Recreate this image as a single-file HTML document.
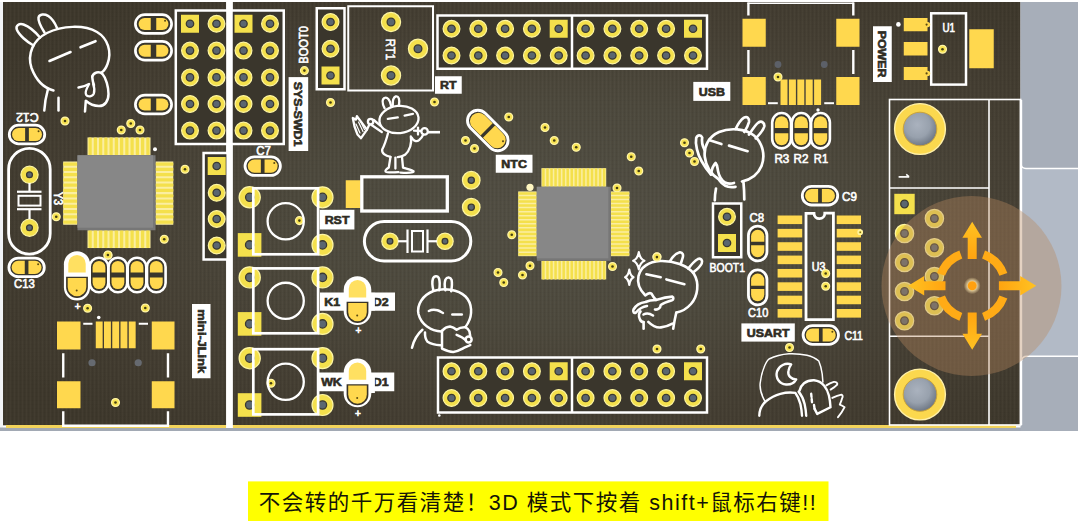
<!DOCTYPE html>
<html lang="zh">
<head>
<meta charset="utf-8">
<title>PCB 3D view</title>
<style>
html,body{margin:0;padding:0;background:#fff;}
body{width:1080px;height:525px;overflow:hidden;position:relative;font-family:"Liberation Sans",sans-serif;}
svg{position:absolute;left:0;top:0;display:block;}
svg text{font-family:"Liberation Sans",sans-serif;}
.cap{position:absolute;left:248px;top:482px;width:580px;height:39px;line-height:43px;font-size:21.5px;letter-spacing:1.5px;color:#141408;font-family:"Liberation Sans","Noto Sans CJK SC",sans-serif;white-space:nowrap;overflow:hidden;text-align:center;}
</style>
</head>
<body>
<svg width="1080" height="525" viewBox="0 0 1080 525">
<defs>
<pattern id="tex" width="4" height="4" patternUnits="userSpaceOnUse">
<rect width="4" height="4" fill="#000" fill-opacity="0"/>
<rect x="0" y="0" width="1" height="4" fill="#000" fill-opacity="0.045"/>
<rect x="2" y="0" width="1" height="4" fill="#fff" fill-opacity="0.02"/>
<rect x="0" y="0" width="4" height="1" fill="#000" fill-opacity="0.02"/>
</pattern>
<radialGradient id="bgl" cx="0.55" cy="0.5" r="0.66">
<stop offset="0" stop-color="#524f44"/><stop offset="0.4" stop-color="#4d493d"/><stop offset="0.72" stop-color="#453f33"/><stop offset="1" stop-color="#3e382c"/>
</radialGradient>
<radialGradient id="hole" cx="0.42" cy="0.38" r="0.62">
<stop offset="0" stop-color="#aab2be"/><stop offset="0.6" stop-color="#98a1ad"/><stop offset="1" stop-color="#707986"/>
</radialGradient>
<radialGradient id="halo" cx="0.5" cy="0.5" r="0.5">
<stop offset="0.45" stop-color="#ffe9b0" stop-opacity="0.95"/><stop offset="1" stop-color="#ffe9b0" stop-opacity="0"/>
</radialGradient>
</defs>
<rect x="0" y="0" width="1080.00" height="525.00" fill="#ffffff" />
<rect x="0" y="2" width="3.20" height="429.00" fill="#f1f3f6" />
<rect x="0" y="427.5" width="1078.00" height="3.50" fill="#a2a9b4" />
<rect x="3" y="2" width="1017.50" height="423.30" fill="url(#bgl)" />
<rect x="3" y="2" width="1017.50" height="423.30" fill="url(#tex)" />
<rect x="6" y="425" width="1010.00" height="3.00" fill="#f2d35a" />
<rect x="1020.5" y="2" width="57.50" height="429.00" fill="#a7aeb9" />
<rect x="1021" y="169" width="57.00" height="187.00" fill="#b2bac6" />
<path d="M1020.9,100 V425" stroke="#ffffff" stroke-width="2.6" fill="none"/>
<path d="M1021,164 Q1021.5,168.5 1026,168.5 H1078" stroke="#ffffff" stroke-width="1.5" fill="none"/>
<path d="M1021.5,361 Q1022,356.3 1027,356.3 H1078" stroke="#ffffff" stroke-width="1.5" fill="none"/>
<rect x="226.4" y="2" width="6.10" height="426.00" fill="#ffffff" />
<rect x="175.8" y="10.5" width="107.95" height="133.50" fill="#3a362c" stroke="#ffffff" stroke-width="2.5"/>
<rect x="181.00" y="14.75" width="18.00" height="18.00" fill="#f4e04c"/>
<circle cx="190" cy="23.75" r="3.70" fill="#5a6670" stroke="#3b3a32" stroke-width="1.3"/>
<circle cx="190" cy="50.6" r="8.4" fill="#f4e04c" stroke="#fdf5a2" stroke-width="1.2"/>
<circle cx="190" cy="50.6" r="3.70" fill="#5a6670" stroke="#3b3a32" stroke-width="1.3"/>
<circle cx="190" cy="77.4" r="8.4" fill="#f4e04c" stroke="#fdf5a2" stroke-width="1.2"/>
<circle cx="190" cy="77.4" r="3.70" fill="#5a6670" stroke="#3b3a32" stroke-width="1.3"/>
<circle cx="190" cy="104" r="8.4" fill="#f4e04c" stroke="#fdf5a2" stroke-width="1.2"/>
<circle cx="190" cy="104" r="3.70" fill="#5a6670" stroke="#3b3a32" stroke-width="1.3"/>
<circle cx="190" cy="130.6" r="8.4" fill="#f4e04c" stroke="#fdf5a2" stroke-width="1.2"/>
<circle cx="190" cy="130.6" r="3.70" fill="#5a6670" stroke="#3b3a32" stroke-width="1.3"/>
<circle cx="216.5" cy="23.75" r="8.4" fill="#f4e04c" stroke="#fdf5a2" stroke-width="1.2"/>
<circle cx="216.5" cy="23.75" r="3.70" fill="#5a6670" stroke="#3b3a32" stroke-width="1.3"/>
<circle cx="216.5" cy="50.6" r="8.4" fill="#f4e04c" stroke="#fdf5a2" stroke-width="1.2"/>
<circle cx="216.5" cy="50.6" r="3.70" fill="#5a6670" stroke="#3b3a32" stroke-width="1.3"/>
<circle cx="216.5" cy="77.4" r="8.4" fill="#f4e04c" stroke="#fdf5a2" stroke-width="1.2"/>
<circle cx="216.5" cy="77.4" r="3.70" fill="#5a6670" stroke="#3b3a32" stroke-width="1.3"/>
<circle cx="216.5" cy="104" r="8.4" fill="#f4e04c" stroke="#fdf5a2" stroke-width="1.2"/>
<circle cx="216.5" cy="104" r="3.70" fill="#5a6670" stroke="#3b3a32" stroke-width="1.3"/>
<circle cx="216.5" cy="130.6" r="8.4" fill="#f4e04c" stroke="#fdf5a2" stroke-width="1.2"/>
<circle cx="216.5" cy="130.6" r="3.70" fill="#5a6670" stroke="#3b3a32" stroke-width="1.3"/>
<rect x="234.50" y="14.75" width="18.00" height="18.00" fill="#f4e04c"/>
<circle cx="243.5" cy="23.75" r="3.70" fill="#5a6670" stroke="#3b3a32" stroke-width="1.3"/>
<circle cx="243.5" cy="50.6" r="8.4" fill="#f4e04c" stroke="#fdf5a2" stroke-width="1.2"/>
<circle cx="243.5" cy="50.6" r="3.70" fill="#5a6670" stroke="#3b3a32" stroke-width="1.3"/>
<circle cx="243.5" cy="77.4" r="8.4" fill="#f4e04c" stroke="#fdf5a2" stroke-width="1.2"/>
<circle cx="243.5" cy="77.4" r="3.70" fill="#5a6670" stroke="#3b3a32" stroke-width="1.3"/>
<circle cx="243.5" cy="104" r="8.4" fill="#f4e04c" stroke="#fdf5a2" stroke-width="1.2"/>
<circle cx="243.5" cy="104" r="3.70" fill="#5a6670" stroke="#3b3a32" stroke-width="1.3"/>
<circle cx="243.5" cy="130.6" r="8.4" fill="#f4e04c" stroke="#fdf5a2" stroke-width="1.2"/>
<circle cx="243.5" cy="130.6" r="3.70" fill="#5a6670" stroke="#3b3a32" stroke-width="1.3"/>
<circle cx="270" cy="23.75" r="8.4" fill="#f4e04c" stroke="#fdf5a2" stroke-width="1.2"/>
<circle cx="270" cy="23.75" r="3.70" fill="#5a6670" stroke="#3b3a32" stroke-width="1.3"/>
<circle cx="270" cy="50.6" r="8.4" fill="#f4e04c" stroke="#fdf5a2" stroke-width="1.2"/>
<circle cx="270" cy="50.6" r="3.70" fill="#5a6670" stroke="#3b3a32" stroke-width="1.3"/>
<circle cx="270" cy="77.4" r="8.4" fill="#f4e04c" stroke="#fdf5a2" stroke-width="1.2"/>
<circle cx="270" cy="77.4" r="3.70" fill="#5a6670" stroke="#3b3a32" stroke-width="1.3"/>
<circle cx="270" cy="104" r="8.4" fill="#f4e04c" stroke="#fdf5a2" stroke-width="1.2"/>
<circle cx="270" cy="104" r="3.70" fill="#5a6670" stroke="#3b3a32" stroke-width="1.3"/>
<circle cx="270" cy="130.6" r="8.4" fill="#f4e04c" stroke="#fdf5a2" stroke-width="1.2"/>
<circle cx="270" cy="130.6" r="3.70" fill="#5a6670" stroke="#3b3a32" stroke-width="1.3"/>
<rect x="226.4" y="2" width="6.10" height="426.00" fill="#ffffff" />
<g transform="translate(153.5,24) rotate(0)">
<rect x="-18.1" y="-9.4" width="36.2" height="18.8" rx="9.4" fill="#39362c" stroke="#ffffff" stroke-width="2.7"/>
<path d="M-2.75,-6.0 L-8.95,-6.0 A6.0,6.0 0 0 0 -8.95,6.0 L-2.75,6.0 Z" fill="#ffd84e"/>
<path d="M2.75,-6.0 L8.95,-6.0 A6.0,6.0 0 0 1 8.95,6.0 L2.75,6.0 Z" fill="#ffd84e"/>
<circle cx="11.549999999999999" cy="-3.2" r="1" fill="#5a4a10"/>
</g>
<g transform="translate(153.5,50.75) rotate(0)">
<rect x="-18.1" y="-9.4" width="36.2" height="18.8" rx="9.4" fill="#39362c" stroke="#ffffff" stroke-width="2.7"/>
<path d="M-2.75,-6.0 L-8.95,-6.0 A6.0,6.0 0 0 0 -8.95,6.0 L-2.75,6.0 Z" fill="#ffd84e"/>
<path d="M2.75,-6.0 L8.95,-6.0 A6.0,6.0 0 0 1 8.95,6.0 L2.75,6.0 Z" fill="#ffd84e"/>
</g>
<g transform="translate(153.5,104.5) rotate(0)">
<rect x="-18.1" y="-9.4" width="36.2" height="18.8" rx="9.4" fill="#39362c" stroke="#ffffff" stroke-width="2.7"/>
<path d="M-2.75,-6.0 L-8.95,-6.0 A6.0,6.0 0 0 0 -8.95,6.0 L-2.75,6.0 Z" fill="#ffd84e"/>
<path d="M2.75,-6.0 L8.95,-6.0 A6.0,6.0 0 0 1 8.95,6.0 L2.75,6.0 Z" fill="#ffd84e"/>
</g>
<text transform="translate(303.8,44.9) rotate(-90) scale(0.82,1)" font-size="13.6" fill="#ffffff" stroke="#ffffff" stroke-width="0.65" font-weight="normal" text-anchor="middle" letter-spacing="0" dominant-baseline="central">BOOT0</text>
<circle cx="304.4" cy="70.6" r="3.9" fill="#f8e352" stroke="#fff4a6" stroke-width="1.3"/>
<circle cx="304.4" cy="70.6" r="1.3" fill="#463f12"/>
<rect x="288.6" y="77.1" width="19.60" height="73.90" fill="#ffffff" />
<text transform="translate(298.4,114.05) rotate(90) scale(1.13,1)" font-size="11" fill="#2e2b22" stroke="#2e2b22" stroke-width="0.6" font-weight="bold" text-anchor="middle" letter-spacing="0" dominant-baseline="central">SYS-SWD1</text>
<rect x="316.75" y="8.25" width="27.75" height="81.00" fill="#3a362c" stroke="#ffffff" stroke-width="2.5"/>
<circle cx="330.5" cy="22" r="8.4" fill="#f4e04c" stroke="#fdf5a2" stroke-width="1.2"/>
<circle cx="330.5" cy="22" r="3.70" fill="#5a6670" stroke="#3b3a32" stroke-width="1.3"/>
<circle cx="330.5" cy="48.75" r="8.4" fill="#f4e04c" stroke="#fdf5a2" stroke-width="1.2"/>
<circle cx="330.5" cy="48.75" r="3.70" fill="#5a6670" stroke="#3b3a32" stroke-width="1.3"/>
<rect x="321.50" y="66.50" width="18.00" height="18.00" fill="#f4e04c"/>
<circle cx="330.5" cy="75.5" r="3.70" fill="#5a6670" stroke="#3b3a32" stroke-width="1.3"/>
<rect x="348.25" y="6.25" width="84.75" height="84.25" fill="none" stroke="#ffffff" stroke-width="2.0"/>
<circle cx="391" cy="22" r="9.6" fill="#f4e04c" stroke="#fdf5a2" stroke-width="1.2"/>
<circle cx="391" cy="22" r="3.87" fill="#5a6670" stroke="#3b3a32" stroke-width="1.3"/>
<circle cx="418" cy="48.75" r="9.6" fill="#f4e04c" stroke="#fdf5a2" stroke-width="1.2"/>
<circle cx="418" cy="48.75" r="3.87" fill="#5a6670" stroke="#3b3a32" stroke-width="1.3"/>
<circle cx="391" cy="75.5" r="9.6" fill="#f4e04c" stroke="#fdf5a2" stroke-width="1.2"/>
<circle cx="391" cy="75.5" r="3.87" fill="#5a6670" stroke="#3b3a32" stroke-width="1.3"/>
<text transform="translate(390,49.4) rotate(90) scale(0.83,1)" font-size="13.6" fill="#ffffff" stroke="#ffffff" stroke-width="0.65" font-weight="normal" text-anchor="middle" letter-spacing="0" dominant-baseline="central">RT1</text>
<rect x="435" y="76.25" width="26.75" height="17.50" fill="#ffffff" />
<text transform="translate(448.375,85.0) scale(1.13,1)" font-size="11" fill="#2e2b22" stroke="#2e2b22" stroke-width="0.6" font-weight="bold" text-anchor="middle" letter-spacing="0" dominant-baseline="central">RT</text>
<rect x="437.5" y="15.5" width="269.50" height="53.25" fill="#3a362c" stroke="#ffffff" stroke-width="2.5"/>
<circle cx="451.5" cy="28.75" r="8.4" fill="#f4e04c" stroke="#fdf5a2" stroke-width="1.2"/>
<circle cx="451.5" cy="28.75" r="3.70" fill="#5a6670" stroke="#3b3a32" stroke-width="1.3"/>
<circle cx="451.5" cy="55.5" r="8.4" fill="#f4e04c" stroke="#fdf5a2" stroke-width="1.2"/>
<circle cx="451.5" cy="55.5" r="3.70" fill="#5a6670" stroke="#3b3a32" stroke-width="1.3"/>
<circle cx="478.3" cy="28.75" r="8.4" fill="#f4e04c" stroke="#fdf5a2" stroke-width="1.2"/>
<circle cx="478.3" cy="28.75" r="3.70" fill="#5a6670" stroke="#3b3a32" stroke-width="1.3"/>
<circle cx="478.3" cy="55.5" r="8.4" fill="#f4e04c" stroke="#fdf5a2" stroke-width="1.2"/>
<circle cx="478.3" cy="55.5" r="3.70" fill="#5a6670" stroke="#3b3a32" stroke-width="1.3"/>
<circle cx="505.1" cy="28.75" r="8.4" fill="#f4e04c" stroke="#fdf5a2" stroke-width="1.2"/>
<circle cx="505.1" cy="28.75" r="3.70" fill="#5a6670" stroke="#3b3a32" stroke-width="1.3"/>
<circle cx="505.1" cy="55.5" r="8.4" fill="#f4e04c" stroke="#fdf5a2" stroke-width="1.2"/>
<circle cx="505.1" cy="55.5" r="3.70" fill="#5a6670" stroke="#3b3a32" stroke-width="1.3"/>
<circle cx="531.9" cy="28.75" r="8.4" fill="#f4e04c" stroke="#fdf5a2" stroke-width="1.2"/>
<circle cx="531.9" cy="28.75" r="3.70" fill="#5a6670" stroke="#3b3a32" stroke-width="1.3"/>
<circle cx="531.9" cy="55.5" r="8.4" fill="#f4e04c" stroke="#fdf5a2" stroke-width="1.2"/>
<circle cx="531.9" cy="55.5" r="3.70" fill="#5a6670" stroke="#3b3a32" stroke-width="1.3"/>
<rect x="549.70" y="19.75" width="18.00" height="18.00" fill="#f4e04c"/>
<circle cx="558.7" cy="28.75" r="3.70" fill="#5a6670" stroke="#3b3a32" stroke-width="1.3"/>
<circle cx="558.7" cy="55.5" r="8.4" fill="#f4e04c" stroke="#fdf5a2" stroke-width="1.2"/>
<circle cx="558.7" cy="55.5" r="3.70" fill="#5a6670" stroke="#3b3a32" stroke-width="1.3"/>
<circle cx="585.6" cy="28.75" r="8.4" fill="#f4e04c" stroke="#fdf5a2" stroke-width="1.2"/>
<circle cx="585.6" cy="28.75" r="3.70" fill="#5a6670" stroke="#3b3a32" stroke-width="1.3"/>
<circle cx="585.6" cy="55.5" r="8.4" fill="#f4e04c" stroke="#fdf5a2" stroke-width="1.2"/>
<circle cx="585.6" cy="55.5" r="3.70" fill="#5a6670" stroke="#3b3a32" stroke-width="1.3"/>
<circle cx="612.4" cy="28.75" r="8.4" fill="#f4e04c" stroke="#fdf5a2" stroke-width="1.2"/>
<circle cx="612.4" cy="28.75" r="3.70" fill="#5a6670" stroke="#3b3a32" stroke-width="1.3"/>
<circle cx="612.4" cy="55.5" r="8.4" fill="#f4e04c" stroke="#fdf5a2" stroke-width="1.2"/>
<circle cx="612.4" cy="55.5" r="3.70" fill="#5a6670" stroke="#3b3a32" stroke-width="1.3"/>
<circle cx="639.2" cy="28.75" r="8.4" fill="#f4e04c" stroke="#fdf5a2" stroke-width="1.2"/>
<circle cx="639.2" cy="28.75" r="3.70" fill="#5a6670" stroke="#3b3a32" stroke-width="1.3"/>
<circle cx="639.2" cy="55.5" r="8.4" fill="#f4e04c" stroke="#fdf5a2" stroke-width="1.2"/>
<circle cx="639.2" cy="55.5" r="3.70" fill="#5a6670" stroke="#3b3a32" stroke-width="1.3"/>
<circle cx="666.1" cy="28.75" r="8.4" fill="#f4e04c" stroke="#fdf5a2" stroke-width="1.2"/>
<circle cx="666.1" cy="28.75" r="3.70" fill="#5a6670" stroke="#3b3a32" stroke-width="1.3"/>
<circle cx="666.1" cy="55.5" r="8.4" fill="#f4e04c" stroke="#fdf5a2" stroke-width="1.2"/>
<circle cx="666.1" cy="55.5" r="3.70" fill="#5a6670" stroke="#3b3a32" stroke-width="1.3"/>
<rect x="684.00" y="19.75" width="18.00" height="18.00" fill="#f4e04c"/>
<circle cx="693" cy="28.75" r="3.70" fill="#5a6670" stroke="#3b3a32" stroke-width="1.3"/>
<circle cx="693" cy="55.5" r="8.4" fill="#f4e04c" stroke="#fdf5a2" stroke-width="1.2"/>
<circle cx="693" cy="55.5" r="3.70" fill="#5a6670" stroke="#3b3a32" stroke-width="1.3"/>
<line x1="572" y1="15.5" x2="572" y2="68.75" stroke="#ffffff" stroke-width="2.5" stroke-linecap="butt"/>
<rect x="438" y="357.5" width="269.00" height="55.00" fill="#3a362c" stroke="#ffffff" stroke-width="2.5"/>
<circle cx="451.5" cy="371.25" r="8.4" fill="#f4e04c" stroke="#fdf5a2" stroke-width="1.2"/>
<circle cx="451.5" cy="371.25" r="3.70" fill="#5a6670" stroke="#3b3a32" stroke-width="1.3"/>
<circle cx="451.5" cy="398" r="8.4" fill="#f4e04c" stroke="#fdf5a2" stroke-width="1.2"/>
<circle cx="451.5" cy="398" r="3.70" fill="#5a6670" stroke="#3b3a32" stroke-width="1.3"/>
<circle cx="478.3" cy="371.25" r="8.4" fill="#f4e04c" stroke="#fdf5a2" stroke-width="1.2"/>
<circle cx="478.3" cy="371.25" r="3.70" fill="#5a6670" stroke="#3b3a32" stroke-width="1.3"/>
<circle cx="478.3" cy="398" r="8.4" fill="#f4e04c" stroke="#fdf5a2" stroke-width="1.2"/>
<circle cx="478.3" cy="398" r="3.70" fill="#5a6670" stroke="#3b3a32" stroke-width="1.3"/>
<circle cx="505.1" cy="371.25" r="8.4" fill="#f4e04c" stroke="#fdf5a2" stroke-width="1.2"/>
<circle cx="505.1" cy="371.25" r="3.70" fill="#5a6670" stroke="#3b3a32" stroke-width="1.3"/>
<circle cx="505.1" cy="398" r="8.4" fill="#f4e04c" stroke="#fdf5a2" stroke-width="1.2"/>
<circle cx="505.1" cy="398" r="3.70" fill="#5a6670" stroke="#3b3a32" stroke-width="1.3"/>
<circle cx="531.9" cy="371.25" r="8.4" fill="#f4e04c" stroke="#fdf5a2" stroke-width="1.2"/>
<circle cx="531.9" cy="371.25" r="3.70" fill="#5a6670" stroke="#3b3a32" stroke-width="1.3"/>
<circle cx="531.9" cy="398" r="8.4" fill="#f4e04c" stroke="#fdf5a2" stroke-width="1.2"/>
<circle cx="531.9" cy="398" r="3.70" fill="#5a6670" stroke="#3b3a32" stroke-width="1.3"/>
<rect x="549.70" y="362.25" width="18.00" height="18.00" fill="#f4e04c"/>
<circle cx="558.7" cy="371.25" r="3.70" fill="#5a6670" stroke="#3b3a32" stroke-width="1.3"/>
<circle cx="558.7" cy="398" r="8.4" fill="#f4e04c" stroke="#fdf5a2" stroke-width="1.2"/>
<circle cx="558.7" cy="398" r="3.70" fill="#5a6670" stroke="#3b3a32" stroke-width="1.3"/>
<circle cx="585.6" cy="371.25" r="8.4" fill="#f4e04c" stroke="#fdf5a2" stroke-width="1.2"/>
<circle cx="585.6" cy="371.25" r="3.70" fill="#5a6670" stroke="#3b3a32" stroke-width="1.3"/>
<circle cx="585.6" cy="398" r="8.4" fill="#f4e04c" stroke="#fdf5a2" stroke-width="1.2"/>
<circle cx="585.6" cy="398" r="3.70" fill="#5a6670" stroke="#3b3a32" stroke-width="1.3"/>
<circle cx="612.4" cy="371.25" r="8.4" fill="#f4e04c" stroke="#fdf5a2" stroke-width="1.2"/>
<circle cx="612.4" cy="371.25" r="3.70" fill="#5a6670" stroke="#3b3a32" stroke-width="1.3"/>
<circle cx="612.4" cy="398" r="8.4" fill="#f4e04c" stroke="#fdf5a2" stroke-width="1.2"/>
<circle cx="612.4" cy="398" r="3.70" fill="#5a6670" stroke="#3b3a32" stroke-width="1.3"/>
<circle cx="639.2" cy="371.25" r="8.4" fill="#f4e04c" stroke="#fdf5a2" stroke-width="1.2"/>
<circle cx="639.2" cy="371.25" r="3.70" fill="#5a6670" stroke="#3b3a32" stroke-width="1.3"/>
<circle cx="639.2" cy="398" r="8.4" fill="#f4e04c" stroke="#fdf5a2" stroke-width="1.2"/>
<circle cx="639.2" cy="398" r="3.70" fill="#5a6670" stroke="#3b3a32" stroke-width="1.3"/>
<circle cx="666.1" cy="371.25" r="8.4" fill="#f4e04c" stroke="#fdf5a2" stroke-width="1.2"/>
<circle cx="666.1" cy="371.25" r="3.70" fill="#5a6670" stroke="#3b3a32" stroke-width="1.3"/>
<circle cx="666.1" cy="398" r="8.4" fill="#f4e04c" stroke="#fdf5a2" stroke-width="1.2"/>
<circle cx="666.1" cy="398" r="3.70" fill="#5a6670" stroke="#3b3a32" stroke-width="1.3"/>
<rect x="684.00" y="362.25" width="18.00" height="18.00" fill="#f4e04c"/>
<circle cx="693" cy="371.25" r="3.70" fill="#5a6670" stroke="#3b3a32" stroke-width="1.3"/>
<circle cx="693" cy="398" r="8.4" fill="#f4e04c" stroke="#fdf5a2" stroke-width="1.2"/>
<circle cx="693" cy="398" r="3.70" fill="#5a6670" stroke="#3b3a32" stroke-width="1.3"/>
<line x1="572" y1="357.5" x2="572" y2="412.5" stroke="#ffffff" stroke-width="2.5" stroke-linecap="butt"/>
<circle cx="439.3" cy="415.5" r="1.3" fill="#ffffff"/>
<circle cx="65" cy="121" r="3.9" fill="#f8e352" stroke="#fff4a6" stroke-width="1.3"/>
<circle cx="65" cy="121" r="1.3" fill="#463f12"/>
<circle cx="130.75" cy="123.5" r="3.9" fill="#f8e352" stroke="#fff4a6" stroke-width="1.3"/>
<circle cx="130.75" cy="123.5" r="1.3" fill="#463f12"/>
<circle cx="121.25" cy="130" r="3.9" fill="#f8e352" stroke="#fff4a6" stroke-width="1.3"/>
<circle cx="121.25" cy="130" r="1.3" fill="#463f12"/>
<circle cx="140" cy="130" r="3.9" fill="#f8e352" stroke="#fff4a6" stroke-width="1.3"/>
<circle cx="140" cy="130" r="1.3" fill="#463f12"/>
<circle cx="330.5" cy="102.5" r="3.9" fill="#f8e352" stroke="#fff4a6" stroke-width="1.3"/>
<circle cx="330.5" cy="102.5" r="1.3" fill="#463f12"/>
<circle cx="434.5" cy="102" r="3.9" fill="#f8e352" stroke="#fff4a6" stroke-width="1.3"/>
<circle cx="434.5" cy="102" r="1.3" fill="#463f12"/>
<circle cx="508.75" cy="117" r="3.9" fill="#f8e352" stroke="#fff4a6" stroke-width="1.3"/>
<circle cx="508.75" cy="117" r="1.3" fill="#463f12"/>
<circle cx="185" cy="169.25" r="3.9" fill="#f8e352" stroke="#fff4a6" stroke-width="1.3"/>
<circle cx="185" cy="169.25" r="1.3" fill="#463f12"/>
<circle cx="164.25" cy="239.25" r="3.9" fill="#f8e352" stroke="#fff4a6" stroke-width="1.3"/>
<circle cx="164.25" cy="239.25" r="1.3" fill="#463f12"/>
<circle cx="56.25" cy="216.75" r="3.9" fill="#f8e352" stroke="#fff4a6" stroke-width="1.3"/>
<circle cx="56.25" cy="216.75" r="1.3" fill="#463f12"/>
<circle cx="108" cy="255.25" r="3.9" fill="#f8e352" stroke="#fff4a6" stroke-width="1.3"/>
<circle cx="108" cy="255.25" r="1.3" fill="#463f12"/>
<circle cx="87.6" cy="308.2" r="3.9" fill="#f8e352" stroke="#fff4a6" stroke-width="1.3"/>
<circle cx="87.6" cy="308.2" r="1.3" fill="#463f12"/>
<circle cx="145.3" cy="308" r="3.9" fill="#f8e352" stroke="#fff4a6" stroke-width="1.3"/>
<circle cx="145.3" cy="308" r="1.3" fill="#463f12"/>
<circle cx="465.5" cy="140.5" r="3.9" fill="#f8e352" stroke="#fff4a6" stroke-width="1.3"/>
<circle cx="465.5" cy="140.5" r="1.3" fill="#463f12"/>
<circle cx="474.5" cy="148.5" r="3.9" fill="#f8e352" stroke="#fff4a6" stroke-width="1.3"/>
<circle cx="474.5" cy="148.5" r="1.3" fill="#463f12"/>
<circle cx="511.75" cy="234.75" r="3.9" fill="#f8e352" stroke="#fff4a6" stroke-width="1.3"/>
<circle cx="511.75" cy="234.75" r="1.3" fill="#463f12"/>
<circle cx="554.25" cy="140.5" r="3.9" fill="#f8e352" stroke="#fff4a6" stroke-width="1.3"/>
<circle cx="554.25" cy="140.5" r="1.3" fill="#463f12"/>
<circle cx="545" cy="127.5" r="3.9" fill="#f8e352" stroke="#fff4a6" stroke-width="1.3"/>
<circle cx="545" cy="127.5" r="1.3" fill="#463f12"/>
<circle cx="576.25" cy="147.25" r="3.9" fill="#f8e352" stroke="#fff4a6" stroke-width="1.3"/>
<circle cx="576.25" cy="147.25" r="1.3" fill="#463f12"/>
<circle cx="631.25" cy="156.75" r="3.9" fill="#f8e352" stroke="#fff4a6" stroke-width="1.3"/>
<circle cx="631.25" cy="156.75" r="1.3" fill="#463f12"/>
<circle cx="638.75" cy="171" r="3.9" fill="#f8e352" stroke="#fff4a6" stroke-width="1.3"/>
<circle cx="638.75" cy="171" r="1.3" fill="#463f12"/>
<circle cx="617" cy="188" r="3.9" fill="#f8e352" stroke="#fff4a6" stroke-width="1.3"/>
<circle cx="617" cy="188" r="1.3" fill="#463f12"/>
<circle cx="684.5" cy="142.75" r="3.9" fill="#f8e352" stroke="#fff4a6" stroke-width="1.3"/>
<circle cx="684.5" cy="142.75" r="1.3" fill="#463f12"/>
<circle cx="689.5" cy="153" r="3.9" fill="#f8e352" stroke="#fff4a6" stroke-width="1.3"/>
<circle cx="689.5" cy="153" r="1.3" fill="#463f12"/>
<circle cx="694.5" cy="161.5" r="3.9" fill="#f8e352" stroke="#fff4a6" stroke-width="1.3"/>
<circle cx="694.5" cy="161.5" r="1.3" fill="#463f12"/>
<circle cx="657" cy="256.75" r="3.9" fill="#f8e352" stroke="#fff4a6" stroke-width="1.3"/>
<circle cx="657" cy="256.75" r="1.3" fill="#463f12"/>
<circle cx="498" cy="272.5" r="3.9" fill="#f8e352" stroke="#fff4a6" stroke-width="1.3"/>
<circle cx="498" cy="272.5" r="1.3" fill="#463f12"/>
<circle cx="503.75" cy="282.5" r="3.9" fill="#f8e352" stroke="#fff4a6" stroke-width="1.3"/>
<circle cx="503.75" cy="282.5" r="1.3" fill="#463f12"/>
<circle cx="522.5" cy="275" r="3.9" fill="#f8e352" stroke="#fff4a6" stroke-width="1.3"/>
<circle cx="522.5" cy="275" r="1.3" fill="#463f12"/>
<circle cx="530" cy="265.75" r="3.9" fill="#f8e352" stroke="#fff4a6" stroke-width="1.3"/>
<circle cx="530" cy="265.75" r="1.3" fill="#463f12"/>
<circle cx="612.5" cy="266.5" r="3.9" fill="#f8e352" stroke="#fff4a6" stroke-width="1.3"/>
<circle cx="612.5" cy="266.5" r="1.3" fill="#463f12"/>
<circle cx="657" cy="349" r="3.9" fill="#f8e352" stroke="#fff4a6" stroke-width="1.3"/>
<circle cx="657" cy="349" r="1.3" fill="#463f12"/>
<circle cx="700.75" cy="349" r="3.9" fill="#f8e352" stroke="#fff4a6" stroke-width="1.3"/>
<circle cx="700.75" cy="349" r="1.3" fill="#463f12"/>
<circle cx="789.5" cy="347.5" r="3.9" fill="#f8e352" stroke="#fff4a6" stroke-width="1.3"/>
<circle cx="789.5" cy="347.5" r="1.3" fill="#463f12"/>
<circle cx="115.5" cy="402.5" r="3.9" fill="#f8e352" stroke="#fff4a6" stroke-width="1.3"/>
<circle cx="115.5" cy="402.5" r="1.3" fill="#463f12"/>
<circle cx="299.4" cy="220.6" r="3.9" fill="#f8e352" stroke="#fff4a6" stroke-width="1.3"/>
<circle cx="299.4" cy="220.6" r="1.3" fill="#463f12"/>
<circle cx="271" cy="383.25" r="3.9" fill="#f8e352" stroke="#fff4a6" stroke-width="1.3"/>
<circle cx="271" cy="383.25" r="1.3" fill="#463f12"/>
<circle cx="942.5" cy="49.25" r="3.9" fill="#f8e352" stroke="#fff4a6" stroke-width="1.3"/>
<circle cx="942.5" cy="49.25" r="1.3" fill="#463f12"/>
<circle cx="778" cy="77" r="3.9" fill="#f8e352" stroke="#fff4a6" stroke-width="1.3"/>
<circle cx="778" cy="77" r="1.3" fill="#463f12"/>
<circle cx="530" cy="187.3" r="3.6" fill="#fff6c0"/>
<rect x="87.5" y="137.45" width="63.00" height="17.80" fill="#fbeea0" />
<rect x="87.5" y="230.25" width="63.00" height="17.80" fill="#fbeea0" />
<rect x="88.50" y="137.45" width="3.25" height="17.8" rx="1" fill="#f4e04c"/>
<rect x="88.50" y="230.25" width="3.25" height="17.8" rx="1" fill="#f4e04c"/>
<rect x="93.75" y="137.45" width="3.25" height="17.8" rx="1" fill="#f4e04c"/>
<rect x="93.75" y="230.25" width="3.25" height="17.8" rx="1" fill="#f4e04c"/>
<rect x="99.00" y="137.45" width="3.25" height="17.8" rx="1" fill="#f4e04c"/>
<rect x="99.00" y="230.25" width="3.25" height="17.8" rx="1" fill="#f4e04c"/>
<rect x="104.25" y="137.45" width="3.25" height="17.8" rx="1" fill="#f4e04c"/>
<rect x="104.25" y="230.25" width="3.25" height="17.8" rx="1" fill="#f4e04c"/>
<rect x="109.50" y="137.45" width="3.25" height="17.8" rx="1" fill="#f4e04c"/>
<rect x="109.50" y="230.25" width="3.25" height="17.8" rx="1" fill="#f4e04c"/>
<rect x="114.75" y="137.45" width="3.25" height="17.8" rx="1" fill="#f4e04c"/>
<rect x="114.75" y="230.25" width="3.25" height="17.8" rx="1" fill="#f4e04c"/>
<rect x="120.00" y="137.45" width="3.25" height="17.8" rx="1" fill="#f4e04c"/>
<rect x="120.00" y="230.25" width="3.25" height="17.8" rx="1" fill="#f4e04c"/>
<rect x="125.25" y="137.45" width="3.25" height="17.8" rx="1" fill="#f4e04c"/>
<rect x="125.25" y="230.25" width="3.25" height="17.8" rx="1" fill="#f4e04c"/>
<rect x="130.50" y="137.45" width="3.25" height="17.8" rx="1" fill="#f4e04c"/>
<rect x="130.50" y="230.25" width="3.25" height="17.8" rx="1" fill="#f4e04c"/>
<rect x="135.75" y="137.45" width="3.25" height="17.8" rx="1" fill="#f4e04c"/>
<rect x="135.75" y="230.25" width="3.25" height="17.8" rx="1" fill="#f4e04c"/>
<rect x="141.00" y="137.45" width="3.25" height="17.8" rx="1" fill="#f4e04c"/>
<rect x="141.00" y="230.25" width="3.25" height="17.8" rx="1" fill="#f4e04c"/>
<rect x="146.25" y="137.45" width="3.25" height="17.8" rx="1" fill="#f4e04c"/>
<rect x="146.25" y="230.25" width="3.25" height="17.8" rx="1" fill="#f4e04c"/>
<rect x="63.2" y="161.5" width="14.30" height="63.25" fill="#fbeea0" />
<rect x="155.5" y="161.5" width="17.80" height="63.25" fill="#fbeea0" />
<rect x="63.2" y="162.51" width="14.3" height="3.25" rx="1" fill="#f4e04c"/>
<rect x="155.5" y="162.51" width="17.8" height="3.25" rx="1" fill="#f4e04c"/>
<rect x="63.2" y="167.78" width="14.3" height="3.25" rx="1" fill="#f4e04c"/>
<rect x="155.5" y="167.78" width="17.8" height="3.25" rx="1" fill="#f4e04c"/>
<rect x="63.2" y="173.05" width="14.3" height="3.25" rx="1" fill="#f4e04c"/>
<rect x="155.5" y="173.05" width="17.8" height="3.25" rx="1" fill="#f4e04c"/>
<rect x="63.2" y="178.32" width="14.3" height="3.25" rx="1" fill="#f4e04c"/>
<rect x="155.5" y="178.32" width="17.8" height="3.25" rx="1" fill="#f4e04c"/>
<rect x="63.2" y="183.59" width="14.3" height="3.25" rx="1" fill="#f4e04c"/>
<rect x="155.5" y="183.59" width="17.8" height="3.25" rx="1" fill="#f4e04c"/>
<rect x="63.2" y="188.86" width="14.3" height="3.25" rx="1" fill="#f4e04c"/>
<rect x="155.5" y="188.86" width="17.8" height="3.25" rx="1" fill="#f4e04c"/>
<rect x="63.2" y="194.13" width="14.3" height="3.25" rx="1" fill="#f4e04c"/>
<rect x="155.5" y="194.13" width="17.8" height="3.25" rx="1" fill="#f4e04c"/>
<rect x="63.2" y="199.40" width="14.3" height="3.25" rx="1" fill="#f4e04c"/>
<rect x="155.5" y="199.40" width="17.8" height="3.25" rx="1" fill="#f4e04c"/>
<rect x="63.2" y="204.67" width="14.3" height="3.25" rx="1" fill="#f4e04c"/>
<rect x="155.5" y="204.67" width="17.8" height="3.25" rx="1" fill="#f4e04c"/>
<rect x="63.2" y="209.95" width="14.3" height="3.25" rx="1" fill="#f4e04c"/>
<rect x="155.5" y="209.95" width="17.8" height="3.25" rx="1" fill="#f4e04c"/>
<rect x="63.2" y="215.22" width="14.3" height="3.25" rx="1" fill="#f4e04c"/>
<rect x="155.5" y="215.22" width="17.8" height="3.25" rx="1" fill="#f4e04c"/>
<rect x="63.2" y="220.49" width="14.3" height="3.25" rx="1" fill="#f4e04c"/>
<rect x="155.5" y="220.49" width="17.8" height="3.25" rx="1" fill="#f4e04c"/>
<rect x="77.5" y="155.25" width="78.00" height="75.00" fill="#777777" />
<rect x="77.5" y="155.25" width="75.50" height="72.50" fill="#878787" />
<circle cx="155" cy="149.3" r="2" fill="#ffffff"/>
<rect x="541.4" y="168.20000000000002" width="64.80" height="18.60" fill="#fbeea0" />
<rect x="541.4" y="260.8" width="64.80" height="18.60" fill="#fbeea0" />
<rect x="542.17" y="168.20000000000002" width="2.51" height="18.6" rx="1" fill="#f4e04c"/>
<rect x="542.17" y="260.8" width="2.51" height="18.6" rx="1" fill="#f4e04c"/>
<rect x="546.22" y="168.20000000000002" width="2.51" height="18.6" rx="1" fill="#f4e04c"/>
<rect x="546.22" y="260.8" width="2.51" height="18.6" rx="1" fill="#f4e04c"/>
<rect x="550.27" y="168.20000000000002" width="2.51" height="18.6" rx="1" fill="#f4e04c"/>
<rect x="550.27" y="260.8" width="2.51" height="18.6" rx="1" fill="#f4e04c"/>
<rect x="554.32" y="168.20000000000002" width="2.51" height="18.6" rx="1" fill="#f4e04c"/>
<rect x="554.32" y="260.8" width="2.51" height="18.6" rx="1" fill="#f4e04c"/>
<rect x="558.37" y="168.20000000000002" width="2.51" height="18.6" rx="1" fill="#f4e04c"/>
<rect x="558.37" y="260.8" width="2.51" height="18.6" rx="1" fill="#f4e04c"/>
<rect x="562.42" y="168.20000000000002" width="2.51" height="18.6" rx="1" fill="#f4e04c"/>
<rect x="562.42" y="260.8" width="2.51" height="18.6" rx="1" fill="#f4e04c"/>
<rect x="566.47" y="168.20000000000002" width="2.51" height="18.6" rx="1" fill="#f4e04c"/>
<rect x="566.47" y="260.8" width="2.51" height="18.6" rx="1" fill="#f4e04c"/>
<rect x="570.52" y="168.20000000000002" width="2.51" height="18.6" rx="1" fill="#f4e04c"/>
<rect x="570.52" y="260.8" width="2.51" height="18.6" rx="1" fill="#f4e04c"/>
<rect x="574.57" y="168.20000000000002" width="2.51" height="18.6" rx="1" fill="#f4e04c"/>
<rect x="574.57" y="260.8" width="2.51" height="18.6" rx="1" fill="#f4e04c"/>
<rect x="578.62" y="168.20000000000002" width="2.51" height="18.6" rx="1" fill="#f4e04c"/>
<rect x="578.62" y="260.8" width="2.51" height="18.6" rx="1" fill="#f4e04c"/>
<rect x="582.67" y="168.20000000000002" width="2.51" height="18.6" rx="1" fill="#f4e04c"/>
<rect x="582.67" y="260.8" width="2.51" height="18.6" rx="1" fill="#f4e04c"/>
<rect x="586.72" y="168.20000000000002" width="2.51" height="18.6" rx="1" fill="#f4e04c"/>
<rect x="586.72" y="260.8" width="2.51" height="18.6" rx="1" fill="#f4e04c"/>
<rect x="590.77" y="168.20000000000002" width="2.51" height="18.6" rx="1" fill="#f4e04c"/>
<rect x="590.77" y="260.8" width="2.51" height="18.6" rx="1" fill="#f4e04c"/>
<rect x="594.82" y="168.20000000000002" width="2.51" height="18.6" rx="1" fill="#f4e04c"/>
<rect x="594.82" y="260.8" width="2.51" height="18.6" rx="1" fill="#f4e04c"/>
<rect x="598.87" y="168.20000000000002" width="2.51" height="18.6" rx="1" fill="#f4e04c"/>
<rect x="598.87" y="260.8" width="2.51" height="18.6" rx="1" fill="#f4e04c"/>
<rect x="602.92" y="168.20000000000002" width="2.51" height="18.6" rx="1" fill="#f4e04c"/>
<rect x="602.92" y="260.8" width="2.51" height="18.6" rx="1" fill="#f4e04c"/>
<rect x="518.1999999999999" y="191.4" width="18.60" height="64.80" fill="#fbeea0" />
<rect x="610.8" y="191.4" width="18.60" height="64.80" fill="#fbeea0" />
<rect x="518.1999999999999" y="192.17" width="18.6" height="2.51" rx="1" fill="#f4e04c"/>
<rect x="610.8" y="192.17" width="18.6" height="2.51" rx="1" fill="#f4e04c"/>
<rect x="518.1999999999999" y="196.22" width="18.6" height="2.51" rx="1" fill="#f4e04c"/>
<rect x="610.8" y="196.22" width="18.6" height="2.51" rx="1" fill="#f4e04c"/>
<rect x="518.1999999999999" y="200.27" width="18.6" height="2.51" rx="1" fill="#f4e04c"/>
<rect x="610.8" y="200.27" width="18.6" height="2.51" rx="1" fill="#f4e04c"/>
<rect x="518.1999999999999" y="204.32" width="18.6" height="2.51" rx="1" fill="#f4e04c"/>
<rect x="610.8" y="204.32" width="18.6" height="2.51" rx="1" fill="#f4e04c"/>
<rect x="518.1999999999999" y="208.37" width="18.6" height="2.51" rx="1" fill="#f4e04c"/>
<rect x="610.8" y="208.37" width="18.6" height="2.51" rx="1" fill="#f4e04c"/>
<rect x="518.1999999999999" y="212.42" width="18.6" height="2.51" rx="1" fill="#f4e04c"/>
<rect x="610.8" y="212.42" width="18.6" height="2.51" rx="1" fill="#f4e04c"/>
<rect x="518.1999999999999" y="216.47" width="18.6" height="2.51" rx="1" fill="#f4e04c"/>
<rect x="610.8" y="216.47" width="18.6" height="2.51" rx="1" fill="#f4e04c"/>
<rect x="518.1999999999999" y="220.52" width="18.6" height="2.51" rx="1" fill="#f4e04c"/>
<rect x="610.8" y="220.52" width="18.6" height="2.51" rx="1" fill="#f4e04c"/>
<rect x="518.1999999999999" y="224.57" width="18.6" height="2.51" rx="1" fill="#f4e04c"/>
<rect x="610.8" y="224.57" width="18.6" height="2.51" rx="1" fill="#f4e04c"/>
<rect x="518.1999999999999" y="228.62" width="18.6" height="2.51" rx="1" fill="#f4e04c"/>
<rect x="610.8" y="228.62" width="18.6" height="2.51" rx="1" fill="#f4e04c"/>
<rect x="518.1999999999999" y="232.67" width="18.6" height="2.51" rx="1" fill="#f4e04c"/>
<rect x="610.8" y="232.67" width="18.6" height="2.51" rx="1" fill="#f4e04c"/>
<rect x="518.1999999999999" y="236.72" width="18.6" height="2.51" rx="1" fill="#f4e04c"/>
<rect x="610.8" y="236.72" width="18.6" height="2.51" rx="1" fill="#f4e04c"/>
<rect x="518.1999999999999" y="240.77" width="18.6" height="2.51" rx="1" fill="#f4e04c"/>
<rect x="610.8" y="240.77" width="18.6" height="2.51" rx="1" fill="#f4e04c"/>
<rect x="518.1999999999999" y="244.82" width="18.6" height="2.51" rx="1" fill="#f4e04c"/>
<rect x="610.8" y="244.82" width="18.6" height="2.51" rx="1" fill="#f4e04c"/>
<rect x="518.1999999999999" y="248.87" width="18.6" height="2.51" rx="1" fill="#f4e04c"/>
<rect x="610.8" y="248.87" width="18.6" height="2.51" rx="1" fill="#f4e04c"/>
<rect x="518.1999999999999" y="252.92" width="18.6" height="2.51" rx="1" fill="#f4e04c"/>
<rect x="610.8" y="252.92" width="18.6" height="2.51" rx="1" fill="#f4e04c"/>
<rect x="536.8" y="186.8" width="74.00" height="74.00" fill="#777777" />
<rect x="536.8" y="186.8" width="71.50" height="71.50" fill="#878787" />
<rect x="8.6" y="148.4" width="41.6" height="105.8" rx="20.8" fill="none" stroke="#ffffff" stroke-width="2.8"/>
<circle cx="29.5" cy="174.75" r="8.6" fill="#f4e04c" stroke="#fdf5a2" stroke-width="1.2"/>
<circle cx="29.5" cy="174.75" r="2.92" fill="#5a6670" stroke="#3b3a32" stroke-width="1.3"/>
<circle cx="29.5" cy="227.75" r="8.6" fill="#f4e04c" stroke="#fdf5a2" stroke-width="1.2"/>
<circle cx="29.5" cy="227.75" r="2.92" fill="#5a6670" stroke="#3b3a32" stroke-width="1.3"/>
<line x1="29.5" y1="183" x2="29.5" y2="191.5" stroke="#ffffff" stroke-width="2.2" stroke-linecap="butt"/>
<line x1="29.5" y1="209.5" x2="29.5" y2="219" stroke="#ffffff" stroke-width="2.2" stroke-linecap="butt"/>
<line x1="17" y1="191.75" x2="41.5" y2="191.75" stroke="#ffffff" stroke-width="2.2" stroke-linecap="butt"/>
<line x1="17" y1="209.2" x2="41.5" y2="209.2" stroke="#ffffff" stroke-width="2.2" stroke-linecap="butt"/>
<rect x="18.5" y="195.8" width="22.00" height="9.80" fill="none" stroke="#ffffff" stroke-width="2"/>
<text transform="translate(58.6,198.5) rotate(90) scale(0.88,1)" font-size="12.5" fill="#ffffff" stroke="#ffffff" stroke-width="0.65" font-weight="normal" text-anchor="middle" letter-spacing="0" dominant-baseline="central">Y3</text>
<text transform="translate(27.4,118) rotate(180) scale(0.92,1)" font-size="13.5" fill="#ffffff" stroke="#ffffff" stroke-width="0.65" font-weight="normal" text-anchor="middle" letter-spacing="0" dominant-baseline="central">C12</text>
<g transform="translate(27,134.5) rotate(0)">
<rect x="-17.7" y="-9.3" width="35.4" height="18.6" rx="9.3" fill="#39362c" stroke="#ffffff" stroke-width="2.8"/>
<path d="M-1.85,-6.6 L-8.35,-6.6 A6.6,6.6 0 0 0 -8.35,6.6 L-1.85,6.6 Z" fill="#ffd84e"/>
<path d="M1.85,-6.6 L8.35,-6.6 A6.6,6.6 0 0 1 8.35,6.6 L1.85,6.6 Z" fill="#ffd84e"/>
<circle cx="11.549999999999999" cy="-3.2" r="1" fill="#5a4a10"/>
</g>
<g transform="translate(26.6,267.4) rotate(0)">
<rect x="-17.7" y="-9.3" width="35.4" height="18.6" rx="9.3" fill="#39362c" stroke="#ffffff" stroke-width="2.8"/>
<path d="M-1.85,-6.6 L-8.35,-6.6 A6.6,6.6 0 0 0 -8.35,6.6 L-1.85,6.6 Z" fill="#ffd84e"/>
<path d="M1.85,-6.6 L8.35,-6.6 A6.6,6.6 0 0 1 8.35,6.6 L1.85,6.6 Z" fill="#ffd84e"/>
<circle cx="11.549999999999999" cy="-3.2" r="1" fill="#5a4a10"/>
</g>
<text transform="translate(24.4,284.2) scale(0.86,1)" font-size="13.2" fill="#ffffff" stroke="#ffffff" stroke-width="0.65" font-weight="normal" text-anchor="middle" letter-spacing="0" dominant-baseline="central">C13</text>
<circle cx="107.9" cy="255" r="3.9" fill="#f8e352" stroke="#fff4a6" stroke-width="1.3"/>
<circle cx="107.9" cy="255" r="1.3" fill="#463f12"/>
<g transform="translate(99,275) rotate(90)">
<rect x="-17.3" y="-9.3" width="34.6" height="18.6" rx="9.3" fill="#39362c" stroke="#ffffff" stroke-width="2.6"/>
<path d="M-2.4,-6.4 L-7.6,-6.4 A6.4,6.4 0 0 0 -7.6,6.4 L-2.4,6.4 Z" fill="#ffd84e"/>
<path d="M2.4,-6.4 L7.6,-6.4 A6.4,6.4 0 0 1 7.6,6.4 L2.4,6.4 Z" fill="#ffd84e"/>
</g>
<g transform="translate(117.9,275) rotate(90)">
<rect x="-17.3" y="-9.3" width="34.6" height="18.6" rx="9.3" fill="#39362c" stroke="#ffffff" stroke-width="2.6"/>
<path d="M-2.4,-6.4 L-7.6,-6.4 A6.4,6.4 0 0 0 -7.6,6.4 L-2.4,6.4 Z" fill="#ffd84e"/>
<path d="M2.4,-6.4 L7.6,-6.4 A6.4,6.4 0 0 1 7.6,6.4 L2.4,6.4 Z" fill="#ffd84e"/>
</g>
<g transform="translate(137,275) rotate(90)">
<rect x="-17.3" y="-9.3" width="34.6" height="18.6" rx="9.3" fill="#39362c" stroke="#ffffff" stroke-width="2.6"/>
<path d="M-2.4,-6.4 L-7.6,-6.4 A6.4,6.4 0 0 0 -7.6,6.4 L-2.4,6.4 Z" fill="#ffd84e"/>
<path d="M2.4,-6.4 L7.6,-6.4 A6.4,6.4 0 0 1 7.6,6.4 L2.4,6.4 Z" fill="#ffd84e"/>
</g>
<g transform="translate(156.3,275) rotate(90)">
<rect x="-17.3" y="-9.3" width="34.6" height="18.6" rx="9.3" fill="#39362c" stroke="#ffffff" stroke-width="2.6"/>
<path d="M-2.4,-6.4 L-7.6,-6.4 A6.4,6.4 0 0 0 -7.6,6.4 L-2.4,6.4 Z" fill="#ffd84e"/>
<path d="M2.4,-6.4 L7.6,-6.4 A6.4,6.4 0 0 1 7.6,6.4 L2.4,6.4 Z" fill="#ffd84e"/>
</g>
<text transform="translate(77.6,306)" font-size="10" fill="#ffffff" stroke="#ffffff" stroke-width="0.65" font-weight="normal" text-anchor="middle" letter-spacing="0" dominant-baseline="central">+</text>
<rect x="57" y="321.5" width="23.50" height="28.00" fill="#ffd84e" />
<rect x="151.75" y="321.5" width="22.75" height="28.00" fill="#ffd84e" />
<rect x="57" y="381.25" width="23.50" height="27.00" fill="#ffd84e" />
<rect x="151.75" y="381.25" width="22.75" height="27.00" fill="#ffd84e" />
<rect x="95.75" y="321.5" width="6.90" height="26.75" fill="#ffd84e" />
<rect x="104.0" y="321.5" width="6.90" height="26.75" fill="#ffd84e" />
<rect x="112.25" y="321.5" width="6.90" height="26.75" fill="#ffd84e" />
<rect x="120.5" y="321.5" width="6.90" height="26.75" fill="#ffd84e" />
<rect x="128.75" y="321.5" width="6.90" height="26.75" fill="#ffd84e" />
<line x1="83.25" y1="323.75" x2="92.5" y2="323.75" stroke="#ffffff" stroke-width="2" stroke-linecap="butt"/>
<line x1="138.75" y1="323.75" x2="148" y2="323.75" stroke="#ffffff" stroke-width="2" stroke-linecap="butt"/>
<line x1="63.25" y1="353.25" x2="63.25" y2="377.5" stroke="#ffffff" stroke-width="2.4" stroke-linecap="butt"/>
<line x1="168" y1="353.25" x2="168" y2="377.5" stroke="#ffffff" stroke-width="2.4" stroke-linecap="butt"/>
<line x1="63.25" y1="411.25" x2="63.25" y2="427" stroke="#ffffff" stroke-width="2.4" stroke-linecap="butt"/>
<line x1="168" y1="411.25" x2="168" y2="427" stroke="#ffffff" stroke-width="2.4" stroke-linecap="butt"/>
<line x1="62.3" y1="425.8" x2="169" y2="425.8" stroke="#ffffff" stroke-width="2.6" stroke-linecap="butt"/>
<circle cx="98.75" cy="317.5" r="1.8" fill="#ffffff"/>
<circle cx="92" cy="362.75" r="3.6" fill="#666a70"/>
<circle cx="138.25" cy="362.75" r="3.6" fill="#666a70"/>
<rect x="192" y="304" width="18.50" height="74.25" fill="#ffffff" />
<text transform="translate(201.25,341.125) rotate(90) scale(1.16,1)" font-size="11" fill="#2e2b22" stroke="#2e2b22" stroke-width="0.6" font-weight="bold" text-anchor="middle" letter-spacing="0" dominant-baseline="central">mini-JLink</text>
<rect x="203.6" y="153" width="25.40" height="106.50" fill="#3a362c" stroke="#ffffff" stroke-width="2.5"/>
<rect x="207.70" y="157.00" width="18.00" height="18.00" fill="#f4e04c"/>
<circle cx="216.7" cy="166" r="3.70" fill="#5a6670" stroke="#3b3a32" stroke-width="1.3"/>
<circle cx="216.7" cy="192.75" r="8.4" fill="#f4e04c" stroke="#fdf5a2" stroke-width="1.2"/>
<circle cx="216.7" cy="192.75" r="3.70" fill="#5a6670" stroke="#3b3a32" stroke-width="1.3"/>
<circle cx="216.7" cy="219" r="8.4" fill="#f4e04c" stroke="#fdf5a2" stroke-width="1.2"/>
<circle cx="216.7" cy="219" r="3.70" fill="#5a6670" stroke="#3b3a32" stroke-width="1.3"/>
<circle cx="216.7" cy="245.5" r="8.4" fill="#f4e04c" stroke="#fdf5a2" stroke-width="1.2"/>
<circle cx="216.7" cy="245.5" r="3.70" fill="#5a6670" stroke="#3b3a32" stroke-width="1.3"/>
<rect x="226.4" y="2" width="6.10" height="426.00" fill="#ffffff" />
<text transform="translate(263.6,150.4) scale(0.88,1)" font-size="13" fill="#ffffff" stroke="#ffffff" stroke-width="0.65" font-weight="normal" text-anchor="middle" letter-spacing="0" dominant-baseline="central">C7</text>
<g transform="translate(262.7,166.1) rotate(0)">
<rect x="-17.7" y="-9.3" width="35.4" height="18.6" rx="9.3" fill="#39362c" stroke="#ffffff" stroke-width="2.8"/>
<path d="M-1.85,-6.6 L-8.35,-6.6 A6.6,6.6 0 0 0 -8.35,6.6 L-1.85,6.6 Z" fill="#ffd84e"/>
<path d="M1.85,-6.6 L8.35,-6.6 A6.6,6.6 0 0 1 8.35,6.6 L1.85,6.6 Z" fill="#ffd84e"/>
<circle cx="11.549999999999999" cy="-3.2" r="1" fill="#5a4a10"/>
</g>
<circle cx="249.7" cy="197.3" r="10.6" fill="#f4e04c" stroke="#fdf5a2" stroke-width="1.2"/>
<circle cx="249.7" cy="197.3" r="4.13" fill="#5a6670" stroke="#3b3a32" stroke-width="1.3"/>
<rect x="237.80" y="233.10" width="23.60" height="23.60" fill="#f4e04c"/>
<circle cx="249.6" cy="244.9" r="4.13" fill="#5a6670" stroke="#3b3a32" stroke-width="1.3"/>
<circle cx="322.5" cy="197.3" r="10.5" fill="#f4e04c" stroke="#fdf5a2" stroke-width="1.2"/>
<circle cx="322.5" cy="197.3" r="4.13" fill="#5a6670" stroke="#3b3a32" stroke-width="1.3"/>
<circle cx="322.5" cy="244.9" r="10.5" fill="#f4e04c" stroke="#fdf5a2" stroke-width="1.2"/>
<circle cx="322.5" cy="244.9" r="4.13" fill="#5a6670" stroke="#3b3a32" stroke-width="1.3"/>
<rect x="253.3" y="188.3" width="64.80" height="66.00" fill="none" stroke="#ffffff" stroke-width="2.7"/>
<circle cx="285.7" cy="221.3" r="18.1" fill="none" stroke="#ffffff" stroke-width="2.3"/>
<circle cx="249.7" cy="277.4" r="10.6" fill="#f4e04c" stroke="#fdf5a2" stroke-width="1.2"/>
<circle cx="249.7" cy="277.4" r="4.13" fill="#5a6670" stroke="#3b3a32" stroke-width="1.3"/>
<rect x="237.80" y="312.10" width="23.60" height="23.60" fill="#f4e04c"/>
<circle cx="249.6" cy="323.90000000000003" r="4.13" fill="#5a6670" stroke="#3b3a32" stroke-width="1.3"/>
<circle cx="322.5" cy="277.4" r="10.5" fill="#f4e04c" stroke="#fdf5a2" stroke-width="1.2"/>
<circle cx="322.5" cy="277.4" r="4.13" fill="#5a6670" stroke="#3b3a32" stroke-width="1.3"/>
<circle cx="322.5" cy="323.90000000000003" r="10.5" fill="#f4e04c" stroke="#fdf5a2" stroke-width="1.2"/>
<circle cx="322.5" cy="323.90000000000003" r="4.13" fill="#5a6670" stroke="#3b3a32" stroke-width="1.3"/>
<rect x="253.3" y="268.4" width="64.80" height="64.90" fill="none" stroke="#ffffff" stroke-width="2.7"/>
<circle cx="285.7" cy="300.85" r="18.1" fill="none" stroke="#ffffff" stroke-width="2.3"/>
<circle cx="249.7" cy="358.2" r="10.6" fill="#f4e04c" stroke="#fdf5a2" stroke-width="1.2"/>
<circle cx="249.7" cy="358.2" r="4.13" fill="#5a6670" stroke="#3b3a32" stroke-width="1.3"/>
<rect x="237.80" y="393.20" width="23.60" height="23.60" fill="#f4e04c"/>
<circle cx="249.6" cy="405.0" r="4.13" fill="#5a6670" stroke="#3b3a32" stroke-width="1.3"/>
<circle cx="322.5" cy="358.2" r="10.5" fill="#f4e04c" stroke="#fdf5a2" stroke-width="1.2"/>
<circle cx="322.5" cy="358.2" r="4.13" fill="#5a6670" stroke="#3b3a32" stroke-width="1.3"/>
<circle cx="322.5" cy="405.0" r="10.5" fill="#f4e04c" stroke="#fdf5a2" stroke-width="1.2"/>
<circle cx="322.5" cy="405.0" r="4.13" fill="#5a6670" stroke="#3b3a32" stroke-width="1.3"/>
<rect x="253.3" y="349.2" width="64.80" height="65.20" fill="none" stroke="#ffffff" stroke-width="2.7"/>
<circle cx="285.7" cy="381.79999999999995" r="18.1" fill="none" stroke="#ffffff" stroke-width="2.3"/>
<rect x="319.7" y="209.8" width="34.70" height="19.70" fill="#ffffff" />
<text transform="translate(337.04999999999995,219.65) scale(1.13,1)" font-size="11" fill="#2e2b22" stroke="#2e2b22" stroke-width="0.6" font-weight="bold" text-anchor="middle" letter-spacing="0" dominant-baseline="central">RST</text>
<rect x="320" y="292.5" width="75.00" height="18.25" fill="#ffffff" />
<text transform="translate(332.3,301.6) scale(1.13,1)" font-size="11" fill="#2e2b22" stroke="#2e2b22" stroke-width="0.6" font-weight="bold" text-anchor="middle" letter-spacing="0" dominant-baseline="central">K1</text>
<text transform="translate(380.6,301.6) scale(1.13,1)" font-size="11" fill="#2e2b22" stroke="#2e2b22" stroke-width="0.6" font-weight="bold" text-anchor="middle" letter-spacing="0" dominant-baseline="central">D2</text>
<rect x="317" y="372.5" width="77.25" height="18.75" fill="#ffffff" />
<text transform="translate(331.5,381.8) scale(1.13,1)" font-size="11" fill="#2e2b22" stroke="#2e2b22" stroke-width="0.6" font-weight="bold" text-anchor="middle" letter-spacing="0" dominant-baseline="central">WK</text>
<text transform="translate(380.6,381.8) scale(1.13,1)" font-size="11" fill="#2e2b22" stroke="#2e2b22" stroke-width="0.6" font-weight="bold" text-anchor="middle" letter-spacing="0" dominant-baseline="central">D1</text>
<rect x="370.3" y="292.8" width="4.60" height="17.80" fill="#ffffff" />
<rect x="343.7" y="276.2" width="27.6" height="48.80000000000001" rx="13.8" fill="#ffffff"/>
<path d="M348.8,297.4 V288.7 A8.7,8.7 0 0 1 366.2,288.7 V297.4 Z" fill="#ffe061"/>
<path d="M346.6,301.8 H368.4 V312.0 A10.9,10.9 0 0 1 346.6,312.0 Z" fill="#3a3428"/>
<path d="M348.2,303.1 H366.8 V312.0 A9.3,9.3 0 0 1 348.2,312.0 Z" fill="#ffd84e"/>
<circle cx="357.2" cy="315.6" r="1" fill="#5a4a10"/>
<rect x="63.9" y="251.2" width="26.2" height="49.400000000000034" rx="13.1" fill="#ffffff"/>
<path d="M68.3,272.4 V263.7 A8.7,8.7 0 0 1 85.7,263.7 V272.4 Z" fill="#ffe061"/>
<path d="M66.1,276.8 H87.9 V287.0 A10.9,10.9 0 0 1 66.1,287.0 Z" fill="#3a3428"/>
<path d="M67.7,278.1 H86.3 V287.0 A9.3,9.3 0 0 1 67.7,287.0 Z" fill="#ffd84e"/>
<circle cx="76.7" cy="290.6" r="1" fill="#5a4a10"/>
<rect x="370.3" y="375.20000000000005" width="4.60" height="17.80" fill="#ffffff" />
<rect x="343.7" y="358.6" width="27.6" height="48.599999999999966" rx="13.8" fill="#ffffff"/>
<path d="M348.8,379.8 V371.1 A8.7,8.7 0 0 1 366.2,371.1 V379.8 Z" fill="#ffe061"/>
<path d="M346.6,384.20000000000005 H368.4 V394.40000000000003 A10.9,10.9 0 0 1 346.6,394.40000000000003 Z" fill="#3a3428"/>
<path d="M348.2,385.50000000000006 H366.8 V394.40000000000003 A9.3,9.3 0 0 1 348.2,394.40000000000003 Z" fill="#ffd84e"/>
<circle cx="357.2" cy="398.00000000000006" r="1" fill="#5a4a10"/>
<text transform="translate(358.3,330.4)" font-size="10" fill="#ffffff" stroke="#ffffff" stroke-width="0.65" font-weight="normal" text-anchor="middle" letter-spacing="0" dominant-baseline="central">+</text>
<text transform="translate(358,413.25)" font-size="10" fill="#ffffff" stroke="#ffffff" stroke-width="0.65" font-weight="normal" text-anchor="middle" letter-spacing="0" dominant-baseline="central">+</text>
<rect x="345.75" y="180.25" width="14.75" height="27.75" fill="#ffd84e" />
<rect x="361.8" y="176.8" width="85.50" height="34.20" fill="none" stroke="#ffffff" stroke-width="3.3"/>
<circle cx="471.25" cy="180.25" r="8.8" fill="#f4e04c" stroke="#fdf5a2" stroke-width="1.2"/>
<circle cx="471.25" cy="180.25" r="3.10" fill="#5a6670" stroke="#3b3a32" stroke-width="1.3"/>
<circle cx="471.25" cy="207.25" r="8.8" fill="#f4e04c" stroke="#fdf5a2" stroke-width="1.2"/>
<circle cx="471.25" cy="207.25" r="3.10" fill="#5a6670" stroke="#3b3a32" stroke-width="1.3"/>
<rect x="364.4" y="221.6" width="106.4" height="39.4" rx="19.7" fill="none" stroke="#ffffff" stroke-width="3"/>
<circle cx="390" cy="241.25" r="8.2" fill="#f4e04c" stroke="#fdf5a2" stroke-width="1.2"/>
<circle cx="390" cy="241.25" r="2.84" fill="#5a6670" stroke="#3b3a32" stroke-width="1.3"/>
<circle cx="445" cy="241.25" r="8.2" fill="#f4e04c" stroke="#fdf5a2" stroke-width="1.2"/>
<circle cx="445" cy="241.25" r="2.84" fill="#5a6670" stroke="#3b3a32" stroke-width="1.3"/>
<line x1="398" y1="241.25" x2="407" y2="241.25" stroke="#ffffff" stroke-width="2.2" stroke-linecap="butt"/>
<line x1="428" y1="241.25" x2="437" y2="241.25" stroke="#ffffff" stroke-width="2.2" stroke-linecap="butt"/>
<line x1="407.5" y1="229.5" x2="407.5" y2="253" stroke="#ffffff" stroke-width="2.2" stroke-linecap="butt"/>
<line x1="427.5" y1="229.5" x2="427.5" y2="253" stroke="#ffffff" stroke-width="2.2" stroke-linecap="butt"/>
<rect x="412" y="231" width="11.00" height="20.50" fill="none" stroke="#ffffff" stroke-width="2"/>
<g transform="translate(487.8,130.5) rotate(45)">
<rect x="-24.4" y="-10.4" width="48.8" height="20.8" rx="10.4" fill="#39362c" stroke="#ffffff" stroke-width="2.9"/>
<path d="M-1.7,-8.6 L-13.1,-8.6 A8.6,8.6 0 0 0 -13.1,8.6 L-1.7,8.6 Z" fill="#ffd84e"/>
<path d="M1.7,-8.6 L13.1,-8.6 A8.6,8.6 0 0 1 13.1,8.6 L1.7,8.6 Z" fill="#ffd84e"/>
<circle cx="18.3" cy="-3.2" r="1" fill="#5a4a10"/>
</g>
<rect x="495.75" y="154.75" width="36.75" height="18.00" fill="#ffffff" />
<text transform="translate(514.125,163.75) scale(1.13,1)" font-size="11" fill="#2e2b22" stroke="#2e2b22" stroke-width="0.6" font-weight="bold" text-anchor="middle" letter-spacing="0" dominant-baseline="central">NTC</text>
<rect x="693.3" y="81.9" width="37.00" height="19.00" fill="#ffffff" />
<text transform="translate(711.8,91.4) scale(1.13,1)" font-size="11" fill="#2e2b22" stroke="#2e2b22" stroke-width="0.6" font-weight="bold" text-anchor="middle" letter-spacing="0" dominant-baseline="central">USB</text>
<line x1="748.4" y1="2.5" x2="748.4" y2="15.5" stroke="#ffffff" stroke-width="2.4" stroke-linecap="butt"/>
<line x1="748.4" y1="50" x2="748.4" y2="74" stroke="#ffffff" stroke-width="2.4" stroke-linecap="butt"/>
<line x1="853.3" y1="2.5" x2="853.3" y2="15.5" stroke="#ffffff" stroke-width="2.4" stroke-linecap="butt"/>
<line x1="853.3" y1="50" x2="853.3" y2="74" stroke="#ffffff" stroke-width="2.4" stroke-linecap="butt"/>
<line x1="747.5" y1="3.2" x2="854" y2="3.2" stroke="#ffffff" stroke-width="1.6" stroke-linecap="butt"/>
<rect x="742.5" y="18.75" width="23.25" height="28.00" fill="#ffd84e" />
<rect x="742.5" y="77" width="23.25" height="28.00" fill="#ffd84e" />
<rect x="836.25" y="18.75" width="23.25" height="28.00" fill="#ffd84e" />
<rect x="836.25" y="77" width="23.25" height="28.00" fill="#ffd84e" />
<rect x="780.5" y="79.5" width="7.00" height="25.50" fill="#ffd84e" />
<rect x="788.9" y="79.5" width="7.00" height="25.50" fill="#ffd84e" />
<rect x="797.3" y="79.5" width="7.00" height="25.50" fill="#ffd84e" />
<rect x="805.7" y="79.5" width="7.00" height="25.50" fill="#ffd84e" />
<rect x="814.1" y="79.5" width="7.00" height="25.50" fill="#ffd84e" />
<line x1="768" y1="103.2" x2="777.8" y2="103.2" stroke="#ffffff" stroke-width="2" stroke-linecap="butt"/>
<line x1="824.25" y1="103.2" x2="834" y2="103.2" stroke="#ffffff" stroke-width="2" stroke-linecap="butt"/>
<circle cx="778" cy="64.5" r="3.4" fill="#5c6068"/>
<circle cx="824.25" cy="64.5" r="3.4" fill="#5c6068"/>
<g transform="translate(781.6,130.7) rotate(90)">
<rect x="-17.65" y="-9.4" width="35.3" height="18.8" rx="9.4" fill="#39362c" stroke="#ffffff" stroke-width="2.6"/>
<path d="M-2.65,-6.7 L-7.750000000000001,-6.7 A6.7,6.7 0 0 0 -7.750000000000001,6.7 L-2.65,6.7 Z" fill="#ffd84e"/>
<path d="M2.65,-6.7 L7.750000000000001,-6.7 A6.7,6.7 0 0 1 7.750000000000001,6.7 L2.65,6.7 Z" fill="#ffd84e"/>
</g>
<g transform="translate(801.2,130.7) rotate(90)">
<rect x="-17.65" y="-9.4" width="35.3" height="18.8" rx="9.4" fill="#39362c" stroke="#ffffff" stroke-width="2.6"/>
<path d="M-2.65,-6.7 L-7.750000000000001,-6.7 A6.7,6.7 0 0 0 -7.750000000000001,6.7 L-2.65,6.7 Z" fill="#ffd84e"/>
<path d="M2.65,-6.7 L7.750000000000001,-6.7 A6.7,6.7 0 0 1 7.750000000000001,6.7 L2.65,6.7 Z" fill="#ffd84e"/>
</g>
<g transform="translate(820.5,130.7) rotate(90)">
<rect x="-17.65" y="-9.4" width="35.3" height="18.8" rx="9.4" fill="#39362c" stroke="#ffffff" stroke-width="2.6"/>
<path d="M-2.65,-6.7 L-7.750000000000001,-6.7 A6.7,6.7 0 0 0 -7.750000000000001,6.7 L-2.65,6.7 Z" fill="#ffd84e"/>
<path d="M2.65,-6.7 L7.750000000000001,-6.7 A6.7,6.7 0 0 1 7.750000000000001,6.7 L2.65,6.7 Z" fill="#ffd84e"/>
</g>
<circle cx="818" cy="110" r="1.7" fill="#ffffff"/>
<text transform="translate(781.9,158.7) scale(0.9,1)" font-size="13" fill="#ffffff" stroke="#ffffff" stroke-width="0.65" font-weight="normal" text-anchor="middle" letter-spacing="0" dominant-baseline="central">R3</text>
<text transform="translate(801,158.7) scale(0.9,1)" font-size="13" fill="#ffffff" stroke="#ffffff" stroke-width="0.65" font-weight="normal" text-anchor="middle" letter-spacing="0" dominant-baseline="central">R2</text>
<text transform="translate(821,158.7) scale(0.86,1)" font-size="13" fill="#ffffff" stroke="#ffffff" stroke-width="0.65" font-weight="normal" text-anchor="middle" letter-spacing="0" dominant-baseline="central">R1</text>
<rect x="873" y="26.25" width="18.75" height="55.75" fill="#ffffff" />
<text transform="translate(882.375,54.125) rotate(90) scale(1.13,1)" font-size="11" fill="#2e2b22" stroke="#2e2b22" stroke-width="0.6" font-weight="bold" text-anchor="middle" letter-spacing="0" dominant-baseline="central">POWER</text>
<circle cx="898.4" cy="24.4" r="2.3" fill="#ffffff"/>
<rect x="903.75" y="18" width="23.75" height="13.25" fill="#ffd84e" />
<rect x="903.75" y="42" width="23.75" height="13.50" fill="#ffd84e" />
<rect x="903.75" y="67" width="23.75" height="13.00" fill="#ffd84e" />
<rect x="969.25" y="29.25" width="24.50" height="39.00" fill="#ffd84e" />
<rect x="931.2" y="13.3" width="34.80" height="71.30" fill="none" stroke="#ffffff" stroke-width="2.5"/>
<text transform="translate(948.75,27.2) scale(0.82,1)" font-size="12" fill="#ffffff" stroke="#ffffff" stroke-width="0.65" font-weight="normal" text-anchor="middle" letter-spacing="0" dominant-baseline="central">U1</text>
<circle cx="927.6" cy="24.6" r="2.6" fill="#ffd84e"/>
<circle cx="926.6" cy="24.6" r="1.1" fill="#5a4a10"/>
<circle cx="927.6" cy="73.4" r="2.6" fill="#ffd84e"/>
<circle cx="926.6" cy="73.4" r="1.1" fill="#5a4a10"/>
<rect x="889.5" y="99.5" width="131.20" height="325.50" fill="none" stroke="#ffffff" stroke-width="1.6"/>
<line x1="989" y1="99.5" x2="989" y2="425" stroke="#ffffff" stroke-width="1.6" stroke-linecap="butt"/>
<line x1="889.5" y1="188" x2="989" y2="188" stroke="#ffffff" stroke-width="1.6" stroke-linecap="butt"/>
<line x1="889.5" y1="336.25" x2="989" y2="336.25" stroke="#ffffff" stroke-width="1.6" stroke-linecap="butt"/>
<circle cx="920" cy="129" r="25.4" fill="#fbd84e" stroke="#fff0a8" stroke-width="1.4"/>
<circle cx="920" cy="129" r="16.8" fill="url(#hole)" stroke="#c9a23a" stroke-width="1"/>
<circle cx="920" cy="394.5" r="25.4" fill="#fbd84e" stroke="#fff0a8" stroke-width="1.4"/>
<circle cx="920" cy="394.5" r="16.8" fill="url(#hole)" stroke="#c9a23a" stroke-width="1"/>
<line x1="898.6" y1="176.9" x2="909.2" y2="176.9" stroke="#ffffff" stroke-width="1.7" stroke-linecap="butt"/>
<line x1="906.2" y1="174.4" x2="909" y2="176.6" stroke="#ffffff" stroke-width="1.5" stroke-linecap="butt"/>
<rect x="894.30" y="193.80" width="20.40" height="20.40" fill="#f4e04c"/>
<circle cx="904.5" cy="204" r="3.78" fill="#5a6670" stroke="#3b3a32" stroke-width="1.3"/>
<circle cx="904.5" cy="233.5" r="9.2" fill="#f4e04c" stroke="#fdf5a2" stroke-width="1.2"/>
<circle cx="904.5" cy="233.5" r="3.78" fill="#5a6670" stroke="#3b3a32" stroke-width="1.3"/>
<circle cx="904.5" cy="262.5" r="9.2" fill="#f4e04c" stroke="#fdf5a2" stroke-width="1.2"/>
<circle cx="904.5" cy="262.5" r="3.78" fill="#5a6670" stroke="#3b3a32" stroke-width="1.3"/>
<circle cx="904.5" cy="291.5" r="9.2" fill="#f4e04c" stroke="#fdf5a2" stroke-width="1.2"/>
<circle cx="904.5" cy="291.5" r="3.78" fill="#5a6670" stroke="#3b3a32" stroke-width="1.3"/>
<circle cx="904.5" cy="320.75" r="9.2" fill="#f4e04c" stroke="#fdf5a2" stroke-width="1.2"/>
<circle cx="904.5" cy="320.75" r="3.78" fill="#5a6670" stroke="#3b3a32" stroke-width="1.3"/>
<circle cx="934.4" cy="218.5" r="9.2" fill="#f4e04c" stroke="#fdf5a2" stroke-width="1.2"/>
<circle cx="934.4" cy="218.5" r="3.78" fill="#5a6670" stroke="#3b3a32" stroke-width="1.3"/>
<circle cx="934.4" cy="247.75" r="9.2" fill="#f4e04c" stroke="#fdf5a2" stroke-width="1.2"/>
<circle cx="934.4" cy="247.75" r="3.78" fill="#5a6670" stroke="#3b3a32" stroke-width="1.3"/>
<circle cx="934.4" cy="276.5" r="9.2" fill="#f4e04c" stroke="#fdf5a2" stroke-width="1.2"/>
<circle cx="934.4" cy="276.5" r="3.78" fill="#5a6670" stroke="#3b3a32" stroke-width="1.3"/>
<circle cx="934.4" cy="305.75" r="9.2" fill="#f4e04c" stroke="#fdf5a2" stroke-width="1.2"/>
<circle cx="934.4" cy="305.75" r="3.78" fill="#5a6670" stroke="#3b3a32" stroke-width="1.3"/>
<rect x="777.6" y="215.5" width="24.60" height="8.60" fill="#ffd84e" />
<rect x="836.7" y="215.5" width="24.30" height="8.60" fill="#ffd84e" />
<rect x="777.6" y="228.86" width="24.60" height="8.60" fill="#ffd84e" />
<rect x="836.7" y="228.86" width="24.30" height="8.60" fill="#ffd84e" />
<rect x="777.6" y="242.22" width="24.60" height="8.60" fill="#ffd84e" />
<rect x="836.7" y="242.22" width="24.30" height="8.60" fill="#ffd84e" />
<rect x="777.6" y="255.57999999999998" width="24.60" height="8.60" fill="#ffd84e" />
<rect x="836.7" y="255.57999999999998" width="24.30" height="8.60" fill="#ffd84e" />
<rect x="777.6" y="268.94" width="24.60" height="8.60" fill="#ffd84e" />
<rect x="836.7" y="268.94" width="24.30" height="8.60" fill="#ffd84e" />
<rect x="777.6" y="282.3" width="24.60" height="8.60" fill="#ffd84e" />
<rect x="836.7" y="282.3" width="24.30" height="8.60" fill="#ffd84e" />
<rect x="777.6" y="295.65999999999997" width="24.60" height="8.60" fill="#ffd84e" />
<rect x="836.7" y="295.65999999999997" width="24.30" height="8.60" fill="#ffd84e" />
<rect x="777.6" y="309.02" width="24.60" height="8.60" fill="#ffd84e" />
<rect x="836.7" y="309.02" width="24.30" height="8.60" fill="#ffd84e" />
<path d="M806,213.4 H814 A5.4,5.4 0 0 0 824.8,213.2 H833.4 V319.6 H806 Z" fill="none" stroke="#ffffff" stroke-width="2.8"/>
<text transform="translate(818.7,266.6) scale(0.86,1)" font-size="12.5" fill="#ffffff" stroke="#ffffff" stroke-width="0.65" font-weight="normal" text-anchor="middle" letter-spacing="0" dominant-baseline="central">U3</text>
<circle cx="860.2" cy="232.2" r="2.2" fill="#f8e352" stroke="#fff4a6" stroke-width="1.3"/>
<circle cx="860.2" cy="232.2" r="0.7" fill="#463f12"/>
<circle cx="825.7" cy="273.5" r="3.9" fill="#f8e352" stroke="#fff4a6" stroke-width="1.3"/>
<circle cx="825.7" cy="273.5" r="1.3" fill="#463f12"/>
<circle cx="825.7" cy="286.2" r="3.9" fill="#f8e352" stroke="#fff4a6" stroke-width="1.3"/>
<circle cx="825.7" cy="286.2" r="1.3" fill="#463f12"/>
<text transform="translate(756.9,218) scale(0.88,1)" font-size="13" fill="#ffffff" stroke="#ffffff" stroke-width="0.65" font-weight="normal" text-anchor="middle" letter-spacing="0" dominant-baseline="central">C8</text>
<g transform="translate(757.7,243.5) rotate(90)">
<rect x="-17.45" y="-9.25" width="34.9" height="18.5" rx="9.25" fill="#39362c" stroke="#ffffff" stroke-width="2.8"/>
<path d="M-1.7,-6.6 L-7.199999999999999,-6.6 A6.6,6.6 0 0 0 -7.199999999999999,6.6 L-1.7,6.6 Z" fill="#ffd84e"/>
<path d="M1.7,-6.6 L7.199999999999999,-6.6 A6.6,6.6 0 0 1 7.199999999999999,6.6 L1.7,6.6 Z" fill="#ffd84e"/>
</g>
<g transform="translate(757.7,287.4) rotate(90)">
<rect x="-17.45" y="-9.25" width="34.9" height="18.5" rx="9.25" fill="#39362c" stroke="#ffffff" stroke-width="2.8"/>
<path d="M-1.7,-6.6 L-7.199999999999999,-6.6 A6.6,6.6 0 0 0 -7.199999999999999,6.6 L-1.7,6.6 Z" fill="#ffd84e"/>
<path d="M1.7,-6.6 L7.199999999999999,-6.6 A6.6,6.6 0 0 1 7.199999999999999,6.6 L1.7,6.6 Z" fill="#ffd84e"/>
</g>
<text transform="translate(758.2,312.9) scale(0.86,1)" font-size="12.8" fill="#ffffff" stroke="#ffffff" stroke-width="0.65" font-weight="normal" text-anchor="middle" letter-spacing="0" dominant-baseline="central">C10</text>
<g transform="translate(820,195.7) rotate(0)">
<rect x="-17.7" y="-9.3" width="35.4" height="18.6" rx="9.3" fill="#39362c" stroke="#ffffff" stroke-width="2.8"/>
<path d="M-1.85,-6.6 L-8.35,-6.6 A6.6,6.6 0 0 0 -8.35,6.6 L-1.85,6.6 Z" fill="#ffd84e"/>
<path d="M1.85,-6.6 L8.35,-6.6 A6.6,6.6 0 0 1 8.35,6.6 L1.85,6.6 Z" fill="#ffd84e"/>
</g>
<text transform="translate(849.5,196.3) scale(0.88,1)" font-size="13.2" fill="#ffffff" stroke="#ffffff" stroke-width="0.65" font-weight="normal" text-anchor="middle" letter-spacing="0" dominant-baseline="central">C9</text>
<g transform="translate(820.8,335) rotate(0)">
<rect x="-17.7" y="-9.3" width="35.4" height="18.6" rx="9.3" fill="#39362c" stroke="#ffffff" stroke-width="2.8"/>
<path d="M-1.85,-6.6 L-8.35,-6.6 A6.6,6.6 0 0 0 -8.35,6.6 L-1.85,6.6 Z" fill="#ffd84e"/>
<path d="M1.85,-6.6 L8.35,-6.6 A6.6,6.6 0 0 1 8.35,6.6 L1.85,6.6 Z" fill="#ffd84e"/>
<circle cx="11.549999999999999" cy="-3.2" r="1" fill="#5a4a10"/>
</g>
<text transform="translate(853.7,335.8) scale(0.8,1)" font-size="13.2" fill="#ffffff" stroke="#ffffff" stroke-width="0.65" font-weight="normal" text-anchor="middle" letter-spacing="0" dominant-baseline="central">C11</text>
<rect x="713" y="203.5" width="28.25" height="53.75" fill="#3a362c" stroke="#ffffff" stroke-width="2.5"/>
<circle cx="727" cy="216.75" r="8.4" fill="#f4e04c" stroke="#fdf5a2" stroke-width="1.2"/>
<circle cx="727" cy="216.75" r="3.70" fill="#5a6670" stroke="#3b3a32" stroke-width="1.3"/>
<rect x="718.00" y="234.00" width="18.00" height="18.00" fill="#f4e04c"/>
<circle cx="727" cy="243" r="3.70" fill="#5a6670" stroke="#3b3a32" stroke-width="1.3"/>
<text transform="translate(727.25,267.5) scale(0.83,1)" font-size="12.6" fill="#ffffff" stroke="#ffffff" stroke-width="0.65" font-weight="normal" text-anchor="middle" letter-spacing="0" dominant-baseline="central">BOOT1</text>
<rect x="741.4" y="323.4" width="53.40" height="18.20" fill="#ffffff" />
<text transform="translate(768.0999999999999,332.5) scale(1.13,1)" font-size="11" fill="#2e2b22" stroke="#2e2b22" stroke-width="0.6" font-weight="bold" text-anchor="middle" letter-spacing="0" dominant-baseline="central">USART</text>
<path d="M53.5,90.5 C44,88 36,80 31.5,68 C27,54 33,40 47,33 C62,25.5 84,24.5 97,32 C108,38.5 112,52 107.5,64 C106,68 104,71 101.5,72.5" fill="none" stroke="#ffffff" stroke-width="2.5" stroke-linecap="round" stroke-linejoin="round" />
<path d="M78.5,87.5 C82.5,87 86,85.8 89,84" fill="none" stroke="#ffffff" stroke-width="2.5" stroke-linecap="round" stroke-linejoin="round" />
<path d="M33.5,45.5 C27,42 19,35 16.8,29.5 C15.5,25.5 19,23.2 23.5,24.5 C29,26.5 35,31.5 40,37.5" fill="none" stroke="#ffffff" stroke-width="2.5" stroke-linecap="round" stroke-linejoin="round" />
<path d="M44.5,32.5 C41,27 38,21 38.5,17.5 C39.5,14 44.5,13.8 48,15.8 C52,18.5 55,23 57,28" fill="none" stroke="#ffffff" stroke-width="2.5" stroke-linecap="round" stroke-linejoin="round" />
<path d="M49.5,61 L70.5,52" fill="none" stroke="#ffffff" stroke-width="2.6" stroke-linecap="round" stroke-linejoin="round" />
<path d="M80.5,47.3 L95.5,41.2" fill="none" stroke="#ffffff" stroke-width="2.6" stroke-linecap="round" stroke-linejoin="round" />
<path d="M92.2,76.5 C93.5,72.5 99,70.5 102.5,74 C106,78 108.5,87 108.5,94 C108.5,101 105,106 99,106 C94,106 89.5,104 85.8,100.8 L85,111.5" fill="none" stroke="#ffffff" stroke-width="2.5" stroke-linecap="round" stroke-linejoin="round" />
<path d="M92.2,76.5 C92.5,80 93,83 94,85" fill="none" stroke="#ffffff" stroke-width="2.5" stroke-linecap="round" stroke-linejoin="round" />
<path d="M88.6,85 C86.6,88.5 84.8,92 86,94.6 C87.6,97.2 92.6,96.8 93.8,93.6 C94.8,90.6 94.3,87 93.2,84" fill="none" stroke="#ffffff" stroke-width="2.3" stroke-linecap="round" stroke-linejoin="round" />
<path d="M47.8,89.8 C46,96 44.8,103 44.3,110.5" fill="none" stroke="#ffffff" stroke-width="2.5" stroke-linecap="round" stroke-linejoin="round" />
<path d="M58.5,97.8 L58.5,110.5" fill="none" stroke="#ffffff" stroke-width="2.5" stroke-linecap="round" stroke-linejoin="round" />
<ellipse cx="399" cy="119.5" rx="19.6" ry="13.6" fill="none" stroke="#ffffff" stroke-width="2.3" transform="rotate(-6 399 119.5)"/>
<path d="M384.6,108.3 C382.5,104 382,99.5 384.3,98 C387,96.6 390,99.5 391.2,106" fill="none" stroke="#ffffff" stroke-width="2.3" stroke-linecap="round" stroke-linejoin="round" />
<path d="M392.8,105.4 C392.5,101 393.3,97.5 395.8,96.4 C398.6,95.8 400,99.5 399,105.5" fill="none" stroke="#ffffff" stroke-width="2.3" stroke-linecap="round" stroke-linejoin="round" />
<path d="M387.8,118.8 L397.8,117.4" fill="none" stroke="#ffffff" stroke-width="2.3" stroke-linecap="round" stroke-linejoin="round" />
<path d="M404.6,115.6 L412.9,113.8" fill="none" stroke="#ffffff" stroke-width="2.3" stroke-linecap="round" stroke-linejoin="round" />
<path d="M388,133.2 C386.5,139 384.5,145 382.2,149.5 C381.5,153 385,156 390.5,156.8" fill="none" stroke="#ffffff" stroke-width="2.3" stroke-linecap="round" stroke-linejoin="round" />
<path d="M410.8,136.5 C412,143 410,150.5 405,154.8 C402.6,156.4 400.4,157 397.8,157.2" fill="none" stroke="#ffffff" stroke-width="2.3" stroke-linecap="round" stroke-linejoin="round" />
<path d="M390.5,156.8 L388.8,167.5 C386.5,169 385,170.5 385.6,171.6 C386.5,172.8 392,172.6 398.5,172.2" fill="none" stroke="#ffffff" stroke-width="2.3" stroke-linecap="round" stroke-linejoin="round" />
<path d="M395.4,157.6 L395.4,168.5" fill="none" stroke="#ffffff" stroke-width="2.3" stroke-linecap="round" stroke-linejoin="round" />
<path d="M402,156.8 L403,167.6 C407,169 412.5,170.2 413.6,171.4 C413.8,172.8 408,173 400.5,172.6" fill="none" stroke="#ffffff" stroke-width="2.3" stroke-linecap="round" stroke-linejoin="round" />
<path d="M380.4,125.6 L373.8,120" fill="none" stroke="#ffffff" stroke-width="2.3" stroke-linecap="round" stroke-linejoin="round" />
<path d="M381.8,132 L371.2,124.8" fill="none" stroke="#ffffff" stroke-width="2.3" stroke-linecap="round" stroke-linejoin="round" />
<circle cx="370.6" cy="121.6" r="2.7" fill="none" stroke="#ffffff" stroke-width="2.3"/>
<path d="M352.8,118 L356,119.6 L356.9,116.2 L367,129.6 L361,138.2 L357.5,134.5 C355,129 353.5,123.5 352.8,118 Z" fill="none" stroke="#ffffff" stroke-width="2.3" stroke-linecap="round" stroke-linejoin="round" />
<path d="M367,129.6 L369.5,124.2" fill="none" stroke="#ffffff" stroke-width="2.3" stroke-linecap="round" stroke-linejoin="round" />
<path d="M356,124 L360,133" fill="none" stroke="#ffffff" stroke-width="1.2" stroke-linecap="round" stroke-linejoin="round" />
<path d="M358.5,122 L363,131.5" fill="none" stroke="#ffffff" stroke-width="1.2" stroke-linecap="round" stroke-linejoin="round" />
<path d="M361,122.5 L364.5,129.5" fill="none" stroke="#ffffff" stroke-width="1.2" stroke-linecap="round" stroke-linejoin="round" />
<path d="M411.5,137.4 C413.5,141 416.5,142.2 419,140.2 C421,138.4 422.5,136.5 423.2,134.6" fill="none" stroke="#ffffff" stroke-width="2.3" stroke-linecap="round" stroke-linejoin="round" />
<path d="M414,130.6 L421,131" fill="none" stroke="#ffffff" stroke-width="2.3" stroke-linecap="round" stroke-linejoin="round" />
<circle cx="424.6" cy="131.4" r="3.2" fill="none" stroke="#ffffff" stroke-width="2.3"/>
<path d="M418,127.6 L418,134.6" fill="none" stroke="#ffffff" stroke-width="2.3" stroke-linecap="round" stroke-linejoin="round" />
<rect x="427.6" y="130.9" width="12.4" height="2.6" fill="#ffffff"/>
<path d="M719,179.5 C712,175 706,167 704.8,157 C703.5,146 709,136.5 719,132 C730,127.5 745,128.5 754,135.5 C763,143 765.5,156 761.5,166 C758,174.5 751,179.5 742,181.5" fill="none" stroke="#ffffff" stroke-width="2.7" stroke-linecap="round" stroke-linejoin="round" />
<path d="M735.7,128.8 C738,124 741,119.5 744,117.6 C747,116 749.6,118 749,122 C748,126 746,129.5 744.3,132" fill="none" stroke="#ffffff" stroke-width="2.7" stroke-linecap="round" stroke-linejoin="round" />
<path d="M749,134.6 C752,130 755.5,124.5 758.5,122.5 C761.5,120.6 764.8,122.5 764.3,126.5 C763,131 759,135 755.8,138.4" fill="none" stroke="#ffffff" stroke-width="2.7" stroke-linecap="round" stroke-linejoin="round" />
<path d="M709,140 L721.4,144" fill="none" stroke="#ffffff" stroke-width="2.7" stroke-linecap="round" stroke-linejoin="round" />
<path d="M729,145.6 L747.6,151.2" fill="none" stroke="#ffffff" stroke-width="2.7" stroke-linecap="round" stroke-linejoin="round" />
<path d="M704.6,150 C702.5,146 701.5,141 702.2,137.5 C701,134.8 697.5,134.6 696.2,138 C695,144 697.5,154 701.5,161 C704.5,166.5 708,171 711,174.5" fill="none" stroke="#ffffff" stroke-width="2.7" stroke-linecap="round" stroke-linejoin="round" />
<path d="M711,174.5 C711.5,170 713,165.5 715.6,163 C717.5,165 717.5,168.5 718,171 C719,176 721,180 725,182.5 C728,184 731,184 734,183" fill="none" stroke="#ffffff" stroke-width="2.7" stroke-linecap="round" stroke-linejoin="round" />
<path d="M719.5,180.5 C723,185.5 729,188 735.5,186.8" fill="none" stroke="#ffffff" stroke-width="2.7" stroke-linecap="round" stroke-linejoin="round" />
<path d="M716,188.5 C715.2,192.5 714.8,196.5 714.8,200.3" fill="none" stroke="#ffffff" stroke-width="2.7" stroke-linecap="round" stroke-linejoin="round" />
<path d="M743.4,181.4 C744,187.5 744.3,193.5 744.3,199.5" fill="none" stroke="#ffffff" stroke-width="2.7" stroke-linecap="round" stroke-linejoin="round" />
<path d="M645,295 C640,290 637,283 638.5,276 C640.5,267 649,261.5 660,261 C673,260.5 688,265 694,274 C699.5,283 698,296 691,304 C687,308.5 682,311.5 676.5,312.5" fill="none" stroke="#ffffff" stroke-width="2.6" stroke-linecap="round" stroke-linejoin="round" />
<path d="M670.2,260.8 C672.5,257 676.5,253 679.8,252.2 C682.8,252 683.6,255 682.6,258 C682,260 681.3,262 680.7,264" fill="none" stroke="#ffffff" stroke-width="2.6" stroke-linecap="round" stroke-linejoin="round" />
<path d="M688.3,268.6 C691,265 694.5,261 697.9,259 C701,257.8 703,260.5 701.7,263.5 C700,267 696.5,270 693.1,272.4" fill="none" stroke="#ffffff" stroke-width="2.6" stroke-linecap="round" stroke-linejoin="round" />
<path d="M646.4,274.3 L660.7,277.2" fill="none" stroke="#ffffff" stroke-width="2.6" stroke-linecap="round" stroke-linejoin="round" />
<path d="M666.4,279.4 L684.4,284.2" fill="none" stroke="#ffffff" stroke-width="2.6" stroke-linecap="round" stroke-linejoin="round" />
<path d="M638.8,252.20000000000002 Q640.0319999999999,258.908 644.4,260.8 Q640.0319999999999,262.692 638.8,269.40000000000003 Q637.568,262.692 633.1999999999999,260.8 Q637.568,258.908 638.8,252.20000000000002 Z" fill="none" stroke="#ffffff" stroke-width="2.2" stroke-linecap="round" stroke-linejoin="round" />
<path d="M629.3,269.59999999999997 Q630.2239999999999,275.52799999999996 633.5,277.2 Q630.2239999999999,278.872 629.3,284.8 Q628.376,278.872 625.0999999999999,277.2 Q628.376,275.52799999999996 629.3,269.59999999999997 Z" fill="none" stroke="#ffffff" stroke-width="2.2" stroke-linecap="round" stroke-linejoin="round" />
<circle cx="656.9" cy="257.1" r="3.9" fill="#f8e352" stroke="#fff4a6" stroke-width="1.3"/>
<circle cx="656.9" cy="257.1" r="1.3" fill="#463f12"/>
<path d="M645.5,295.4 C647.5,293.5 650,292.8 651.5,293.6 C652.5,295.5 654,298 656,300 C661,298.5 667,297 672.3,296.6 C674,297.5 673.5,299.8 672,300.3 C668,301.5 663.5,303 660.7,305 C660.5,308 658,310 655,309.5" fill="none" stroke="#ffffff" stroke-width="2.6" stroke-linecap="round" stroke-linejoin="round" />
<path d="M656,300 C652,300 648.5,300.5 645.5,302 C641,302.5 636,305 633.5,309.5 C632.5,312 634,313.5 636,312.5 C639,309 643,306.5 647,306" fill="none" stroke="#ffffff" stroke-width="2.6" stroke-linecap="round" stroke-linejoin="round" />
<path d="M640.5,311.5 C639,313 638.5,316 639.8,319 C640.5,321 641.5,322 643.4,322" fill="none" stroke="#ffffff" stroke-width="2.6" stroke-linecap="round" stroke-linejoin="round" />
<path d="M643.5,314.5 C646,313 650,313.5 653,315.5" fill="none" stroke="#ffffff" stroke-width="2.6" stroke-linecap="round" stroke-linejoin="round" />
<path d="M643.6,322 L643.6,328.8" fill="none" stroke="#ffffff" stroke-width="2.6" stroke-linecap="round" stroke-linejoin="round" />
<path d="M676.3,312.5 C675,318 674,323.5 673.2,328.8" fill="none" stroke="#ffffff" stroke-width="2.6" stroke-linecap="round" stroke-linejoin="round" />
<path d="M648.3,321.8 C652,325.5 657,327.8 661,327.4 C665,327 669,325.5 672.4,323.6" fill="none" stroke="#ffffff" stroke-width="2.6" stroke-linecap="round" stroke-linejoin="round" />
<path d="M441.5,331.5 C431,331 421,324.5 418.5,314 C416.5,304.5 423,295 433.5,291 C444,287.5 458,289.5 465.5,296.5 C472.5,303.5 472.5,315 468,323 C467.2,324.5 466.3,325.8 465.3,327" fill="none" stroke="#ffffff" stroke-width="2.5" stroke-linecap="round" stroke-linejoin="round" />
<path d="M433.4,290.6 C432.3,286 432,281.5 433,278.5 C434.2,275.5 437.8,275.4 439,278.5 C440,281.5 439.8,286 439.2,290.3" fill="none" stroke="#ffffff" stroke-width="2.5" stroke-linecap="round" stroke-linejoin="round" />
<path d="M445.4,290.3 C444.5,286.5 444.3,282.5 445.5,279.5 C447,276.8 450.5,277 451.6,280 C452.4,283.5 451.8,287.5 451.2,291.2" fill="none" stroke="#ffffff" stroke-width="2.5" stroke-linecap="round" stroke-linejoin="round" />
<path d="M428.8,311 C431.5,309.6 435,309.6 437.5,310.3 C439.5,311 441.5,312.2 443,313" fill="none" stroke="#ffffff" stroke-width="2.5" stroke-linecap="round" stroke-linejoin="round" />
<path d="M452.3,314.6 L461.8,314.6" fill="none" stroke="#ffffff" stroke-width="2.5" stroke-linecap="round" stroke-linejoin="round" />
<path d="M442,330.8 C444.5,328 447,326.6 450,326.4 C452.5,326.8 454.8,328.2 456.6,329.8 C459,328 462,327 465.2,327.2 C467.2,328.2 468.8,330 469.5,331.6 L470.2,336" fill="none" stroke="#ffffff" stroke-width="2.5" stroke-linecap="round" stroke-linejoin="round" />
<path d="M442,330.8 L442,348.6 C446,350.5 450,351.8 453.2,352 C456.5,351.5 460,350 462.6,348.6 C465.5,347 468.5,346.2 470.3,345" fill="none" stroke="#ffffff" stroke-width="2.5" stroke-linecap="round" stroke-linejoin="round" />
<path d="M456.6,334.8 C459.5,336 463,337.6 465,339.5" fill="none" stroke="#ffffff" stroke-width="2.5" stroke-linecap="round" stroke-linejoin="round" />
<circle cx="468.6" cy="339.4" r="3" fill="none" stroke="#ffffff" stroke-width="2.5"/>
<path d="M422.4,329.8 C417.5,334 413.8,340.5 412,347.8" fill="none" stroke="#ffffff" stroke-width="2.5" stroke-linecap="round" stroke-linejoin="round" />
<path d="M425,332.4 C424.8,336 425.6,339.5 427.5,341.8 C431,344 436,345 440.4,345.2" fill="none" stroke="#ffffff" stroke-width="2.5" stroke-linecap="round" stroke-linejoin="round" />
<path d="M764.5,400.5 C761,394 759.6,388 760.2,383 C761,376 762.5,371 764,367.5 C765.5,363.5 767,360.5 769,359 C775,356 782,354.2 789,353.7 C796,353.5 802,354 807,355.2 C812,356.5 816,358.5 818.8,361 C820.5,365 821.6,369.5 822.2,374 L822.9,382" fill="none" stroke="#ffffff" stroke-width="1.5" stroke-linecap="round" stroke-linejoin="round" />
<path d="M791.2,364.4 C785.5,362.5 779,365.5 777,371.5 C775.2,378 779.5,384 786,384.5 C790.5,384.8 794.5,382.5 796.2,379.4 C791,379.5 787.5,375.5 788.4,371 C788.8,368.5 789.8,366.3 791.2,364.4 Z" fill="none" stroke="#ffffff" stroke-width="2.4" stroke-linecap="round" stroke-linejoin="round" />
<path d="M759.3,415.8 C759.5,409.5 762,404.5 766,401.3 C770,398 775,395.2 780.4,393.8 C785,392.6 790.5,392.2 795.4,392.9 C797.8,396 799.4,400 800.4,404 C801.3,408 801.8,412 802,415.8" fill="none" stroke="#ffffff" stroke-width="2.4" stroke-linecap="round" stroke-linejoin="round" />
<path d="M798.6,391.6 C801.5,395 803.5,399.5 804.6,404 C805.5,408 806,412 806.2,415.8" fill="none" stroke="#ffffff" stroke-width="2.4" stroke-linecap="round" stroke-linejoin="round" />
<path d="M799.6,390.5 C800.2,387.5 801.8,385 804,383.2 C807,381 810.5,380.2 814,380.3 C818,380.8 821.5,382.5 824,385.5 C826.5,388.5 828,392 828.9,395.5 C829.8,399.5 830.3,403.5 830.5,407.2 L817.2,413.9 L814.6,408.9" fill="none" stroke="#ffffff" stroke-width="2.4" stroke-linecap="round" stroke-linejoin="round" />
<path d="M811.2,393.8 L811.5,397" fill="none" stroke="#ffffff" stroke-width="2.4" stroke-linecap="round" stroke-linejoin="round" />
<path d="M811.7,399 L812,402.2" fill="none" stroke="#ffffff" stroke-width="2.4" stroke-linecap="round" stroke-linejoin="round" />
<path d="M814,405 L814.6,408.9" fill="none" stroke="#ffffff" stroke-width="2.4" stroke-linecap="round" stroke-linejoin="round" />
<path d="M826.4,385.4 C828.5,384 831.5,382.6 833.8,381.9 C836,381.6 837.8,383 837.2,384.6 C835.5,386.5 833,388.2 830.6,389.6" fill="none" stroke="#ffffff" stroke-width="1.9" stroke-linecap="round" stroke-linejoin="round" />
<path d="M832.3,397.9 C835,396.6 838.5,395.2 841.4,394.6 C842.8,395 843,396.8 842.2,398 C841.5,400.5 840.6,402.8 839.8,404.7 C841.5,405.3 843.2,406.2 844.6,407.2 C842.8,410.8 840.6,414.2 838,417.2" fill="none" stroke="#ffffff" stroke-width="1.9" stroke-linecap="round" stroke-linejoin="round" />
<circle cx="971.5" cy="286" r="90" fill="#b88a5e" fill-opacity="0.38"/>
<defs><linearGradient id="arw" x1="0" y1="0" x2="1" y2="0"><stop offset="0" stop-color="#ffa410"/><stop offset="1" stop-color="#ffc222"/></linearGradient></defs>
<g transform="translate(972.2,285.7)">
<path d="M31.20,11.36 A33.2,33.2 0 0 1 11.36,31.20" fill="none" stroke="#ffab16" stroke-width="8.4"/>
<path d="M-11.36,31.20 A33.2,33.2 0 0 1 -31.20,11.36" fill="none" stroke="#ffab16" stroke-width="8.4"/>
<path d="M-31.20,-11.36 A33.2,33.2 0 0 1 -11.36,-31.20" fill="none" stroke="#ffab16" stroke-width="8.4"/>
<path d="M11.36,-31.20 A33.2,33.2 0 0 1 31.20,-11.36" fill="none" stroke="#ffab16" stroke-width="8.4"/>
<g transform="rotate(0)"><path d="M26.7,-4.5 H48 V-9.8 L64,0 L48,9.8 V4.5 H26.7 Z" fill="url(#arw)"/></g>
<g transform="rotate(90)"><path d="M26.7,-4.5 H48 V-9.8 L64,0 L48,9.8 V4.5 H26.7 Z" fill="url(#arw)"/></g>
<g transform="rotate(180)"><path d="M26.7,-4.5 H48 V-9.8 L64,0 L48,9.8 V4.5 H26.7 Z" fill="url(#arw)"/></g>
<g transform="rotate(270)"><path d="M26.7,-4.5 H48 V-9.8 L64,0 L48,9.8 V4.5 H26.7 Z" fill="url(#arw)"/></g>
<circle cx="0" cy="0" r="8.5" fill="url(#halo)"/>
<circle cx="0" cy="0" r="4.5" fill="#ffa010"/>
</g>
<rect x="248" y="481.4" width="580.50" height="39.60" fill="#ffff00" />
</svg>
<div class="cap">不会转的千万看清楚！3D 模式下按着 shift+鼠标右键!!</div>
</body>
</html>
